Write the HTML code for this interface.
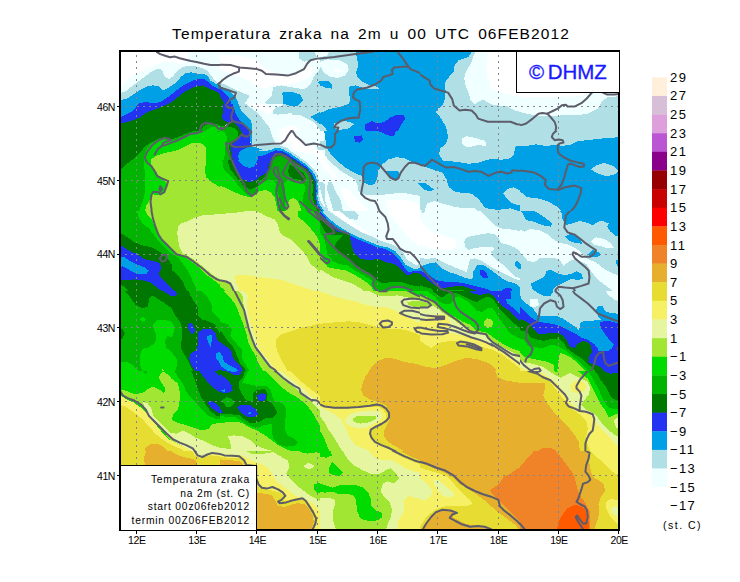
<!DOCTYPE html>
<html><head><meta charset="utf-8"><title>Temperatura zraka</title>
<style>
html,body{margin:0;padding:0;background:#fff;}
body{width:740px;height:582px;position:relative;overflow:hidden;font-family:"Liberation Sans",sans-serif;color:#000;}
svg{position:absolute;left:0;top:0;}
.title{position:absolute;left:0;width:740px;top:25px;text-align:center;font-size:15.5px;letter-spacing:1.1px;word-spacing:2.6px;padding-left:2px;box-sizing:border-box;white-space:nowrap;line-height:18px;}
.xl{position:absolute;top:533px;width:30px;text-align:center;font-size:10.5px;letter-spacing:-0.4px;line-height:14px;}
.yl{position:absolute;left:88px;width:27px;text-align:right;font-size:10.5px;letter-spacing:-0.4px;line-height:14px;}
.cl{position:absolute;left:670px;font-size:13px;letter-spacing:1.4px;line-height:15px;white-space:nowrap;}
.unit{position:absolute;left:663px;top:518px;font-size:10.5px;letter-spacing:1.5px;line-height:14px;white-space:nowrap;}
.dhmz{position:absolute;left:515.7px;top:52px;width:103.3px;height:41px;background:#fff;border-left:1.4px solid #000;border-bottom:1.4px solid #000;box-sizing:border-box;}
.dhmz span{position:absolute;left:12.2px;top:7.6px;font-size:20.5px;color:#1a1aff;-webkit-text-stroke:0.35px #1a1aff;letter-spacing:0px;line-height:24px;white-space:nowrap;}
.leg{position:absolute;left:121px;top:465px;width:136px;height:65px;background:#fff;border-top:1.4px solid #000;border-right:1.4px solid #000;box-sizing:border-box;}
.leg div{position:absolute;right:6px;font-size:10.3px;letter-spacing:0.78px;line-height:12px;white-space:nowrap;text-align:right;}
</style></head><body>
<svg width="740" height="582" viewBox="0 0 740 582">
<defs><clipPath id="c0"><rect x="120" y="51" width="100" height="80"/></clipPath>
<clipPath id="l0"><path clip-rule="evenodd" d="M120,51 H220 V131 H120 Z"/></clipPath>
<clipPath id="c1"><rect x="220" y="51" width="100" height="80"/></clipPath>
<clipPath id="l1"><path clip-rule="evenodd" d="M220,51 H320 V131 H220 Z M220,104 H292 V131 H220 Z"/></clipPath>
<clipPath id="c2"><rect x="320" y="51" width="100" height="80"/></clipPath>
<clipPath id="l2"><path clip-rule="evenodd" d="M320,51 H420 V131 H320 Z"/></clipPath>
<clipPath id="c3"><rect x="420" y="51" width="100" height="80"/></clipPath>
<clipPath id="l3"><path clip-rule="evenodd" d="M420,51 H520 V131 H420 Z"/></clipPath>
<clipPath id="c4"><rect x="520" y="51" width="100" height="80"/></clipPath>
<clipPath id="l4"><path clip-rule="evenodd" d="M520,51 H620 V131 H520 Z"/></clipPath>
<clipPath id="c5"><rect x="120" y="131" width="100" height="80"/></clipPath>
<clipPath id="l5"><path clip-rule="evenodd" d="M120,131 H220 V211 H120 Z"/></clipPath>
<clipPath id="c6"><rect x="220" y="131" width="100" height="80"/></clipPath>
<clipPath id="l6"><path clip-rule="evenodd" d="M220,131 H320 V211 H220 Z M220,131 H292 V160 H220 Z M258,150 H320 V211 H258 Z"/></clipPath>
<clipPath id="c7"><rect x="320" y="131" width="100" height="80"/></clipPath>
<clipPath id="l7"><path clip-rule="evenodd" d="M320,131 H420 V211 H320 Z M320,150 H325 V211 H320 Z"/></clipPath>
<clipPath id="c8"><rect x="420" y="131" width="100" height="80"/></clipPath>
<clipPath id="l8"><path clip-rule="evenodd" d="M420,131 H520 V211 H420 Z"/></clipPath>
<clipPath id="c9"><rect x="520" y="131" width="100" height="80"/></clipPath>
<clipPath id="l9"><path clip-rule="evenodd" d="M520,131 H620 V211 H520 Z"/></clipPath>
<clipPath id="c10"><rect x="120" y="211" width="100" height="80"/></clipPath>
<clipPath id="l10"><path clip-rule="evenodd" d="M120,211 H220 V291 H120 Z"/></clipPath>
<clipPath id="c11"><rect x="220" y="211" width="100" height="80"/></clipPath>
<clipPath id="l11"><path clip-rule="evenodd" d="M220,211 H320 V291 H220 Z"/></clipPath>
<clipPath id="c12"><rect x="320" y="211" width="100" height="80"/></clipPath>
<clipPath id="l12"><path clip-rule="evenodd" d="M320,211 H420 V291 H320 Z"/></clipPath>
<clipPath id="c13"><rect x="420" y="211" width="100" height="80"/></clipPath>
<clipPath id="l13"><path clip-rule="evenodd" d="M420,211 H520 V291 H420 Z"/></clipPath>
<clipPath id="c14"><rect x="520" y="211" width="100" height="80"/></clipPath>
<clipPath id="l14"><path clip-rule="evenodd" d="M520,211 H620 V291 H520 Z"/></clipPath>
<clipPath id="c15"><rect x="120" y="291" width="100" height="80"/></clipPath>
<clipPath id="l15"><path clip-rule="evenodd" d="M120,291 H220 V371 H120 Z"/></clipPath>
<clipPath id="c16"><rect x="220" y="291" width="100" height="80"/></clipPath>
<clipPath id="l16"><path clip-rule="evenodd" d="M220,291 H320 V371 H220 Z"/></clipPath>
<clipPath id="c17"><rect x="320" y="291" width="100" height="80"/></clipPath>
<clipPath id="l17"><path clip-rule="evenodd" d="M320,291 H420 V371 H320 Z"/></clipPath>
<clipPath id="c18"><rect x="420" y="291" width="100" height="80"/></clipPath>
<clipPath id="l18"><path clip-rule="evenodd" d="M420,291 H520 V371 H420 Z"/></clipPath>
<clipPath id="c19"><rect x="520" y="291" width="100" height="80"/></clipPath>
<clipPath id="l19"><path clip-rule="evenodd" d="M520,291 H620 V371 H520 Z"/></clipPath>
<clipPath id="c20"><rect x="120" y="371" width="100" height="80"/></clipPath>
<clipPath id="l20"><path clip-rule="evenodd" d="M120,371 H220 V451 H120 Z"/></clipPath>
<clipPath id="c21"><rect x="220" y="371" width="100" height="80"/></clipPath>
<clipPath id="l21"><path clip-rule="evenodd" d="M220,371 H320 V451 H220 Z"/></clipPath>
<clipPath id="c22"><rect x="320" y="371" width="100" height="80"/></clipPath>
<clipPath id="l22"><path clip-rule="evenodd" d="M320,371 H420 V451 H320 Z"/></clipPath>
<clipPath id="c23"><rect x="420" y="371" width="100" height="80"/></clipPath>
<clipPath id="l23"><path clip-rule="evenodd" d="M420,371 H520 V451 H420 Z"/></clipPath>
<clipPath id="c24"><rect x="520" y="371" width="100" height="80"/></clipPath>
<clipPath id="l24"><path clip-rule="evenodd" d="M520,371 H620 V451 H520 Z"/></clipPath>
<clipPath id="c25"><rect x="120" y="451" width="100" height="80"/></clipPath>
<clipPath id="l25"><path clip-rule="evenodd" d="M120,451 H220 V531 H120 Z"/></clipPath>
<clipPath id="c26"><rect x="220" y="451" width="100" height="80"/></clipPath>
<clipPath id="l26"><path clip-rule="evenodd" d="M220,451 H320 V531 H220 Z"/></clipPath>
<clipPath id="c27"><rect x="320" y="451" width="100" height="80"/></clipPath>
<clipPath id="l27"><path clip-rule="evenodd" d="M320,451 H420 V531 H320 Z"/></clipPath>
<clipPath id="c28"><rect x="420" y="451" width="100" height="80"/></clipPath>
<clipPath id="l28"><path clip-rule="evenodd" d="M420,451 H520 V531 H420 Z"/></clipPath>
<clipPath id="c29"><rect x="520" y="451" width="100" height="80"/></clipPath>
<clipPath id="l29"><path clip-rule="evenodd" d="M520,451 H620 V531 H520 Z"/></clipPath>
<clipPath id="c30"><rect x="220" y="104" width="72" height="56"/></clipPath>
<clipPath id="l30"><path clip-rule="evenodd" d="M220,104 H292 V160 H220 Z M258,150 H292 V160 H258 Z"/></clipPath>
<clipPath id="c31"><rect x="258" y="150" width="67" height="61"/></clipPath>
<clipPath id="l31"><path clip-rule="evenodd" d="M258,150 H325 V211 H258 Z"/></clipPath><clipPath id="cp"><rect x="120" y="51" width="500" height="480"/></clipPath></defs>
<g clip-path="url(#cp)" shape-rendering="crispEdges">
<rect x="120" y="51" width="500" height="480" fill="#b0e0e6"/>
<g clip-path="url(#c0)">
<rect x="120" y="51" width="100" height="80" fill="#ffffff"/>
<polygon fill="#f0ffff" points="119.7,87.5 124.6,82.9 129.5,78.1 135.9,74.0 142.4,70.8 148.9,67.5 157.0,64.3 163.5,61.8 174.9,62.6 181.4,64.3 187.8,61.0 187.8,50.5 233.2,50.5 233.2,157.5 119.7,157.5"/>
<polygon fill="#b0e0e6" points="119.7,93.5 126.2,91.0 131.1,87.0 137.6,82.1 144.1,77.2 150.5,72.4 157.0,69.1 161.9,69.6 163.2,73.2 165.1,77.2 169.2,78.9 173.2,76.4 174.9,73.2 178.1,69.9 183.8,66.7 189.5,65.9 195.9,66.4 202.4,68.3 207.3,70.8 210.5,74.8 213.8,78.9 217.8,82.9 223.5,84.5 233.2,84.5 233.2,157.5 119.7,157.5"/>
<polygon fill="#00a0e6" points="119.7,99.9 126.2,99.1 131.1,95.9 135.9,92.6 142.4,88.6 148.1,85.8 153.8,85.4 158.6,86.5 162.7,90.2 165.9,89.4 170.8,86.2 176.5,82.1 181.4,76.4 186.2,72.9 191.1,72.4 197.6,74.0 204.1,74.0 207.3,75.6 210.5,80.5 215.4,83.7 220.3,85.4 233.2,89.4 233.2,157.5 119.7,157.5"/>
<polygon fill="#2233f2" points="119.7,117.3 126.2,114.5 131.1,112.1 135.9,107.2 139.2,103.2 144.9,102.1 150.5,102.7 157.0,102.7 161.9,101.1 168.4,96.7 174.9,91.8 179.7,87.8 186.2,83.7 192.7,80.5 199.2,78.5 204.1,78.5 207.3,81.3 212.2,85.4 217.8,88.6 223.5,90.2 233.2,96.7 233.2,157.5 119.7,157.5"/>
<polygon fill="#007800" points="119.7,123.8 129.5,121.5 139.2,117.8 147.3,112.1 155.4,109.2 163.5,106.4 171.6,102.1 179.7,95.6 186.2,90.7 192.7,87.5 199.2,85.8 203.2,85.4 208.9,88.6 215.4,91.0 220.3,94.3 223.2,100.8 223.5,108.9 221.9,115.4 223.5,117.8 233.2,121.0 233.2,157.5 119.7,157.5"/>
<polygon fill="#00b400" points="181.4,138.9 186.2,136.4 194.3,132.9 200.8,131.6 203.2,126.7 207.3,124.3 213.8,123.5 220.3,125.1 223.5,128.3 233.2,124.3 233.2,157.5 181.4,157.5"/>
<polygon fill="#00dc00" points="197.6,138.9 204.1,131.6 210.5,127.5 220.3,125.9 233.2,127.5 233.2,157.5 197.6,157.5"/>
</g>
<g clip-path="url(#c1)">
<rect x="220" y="51" width="100" height="80" fill="#f0ffff"/>
<polygon fill="#ffffff" points="210.0,53.7 239.2,55.4 255.4,59.4 265.1,68.3 274.9,73.2 287.8,75.6 300.8,71.6 307.3,65.1 313.8,68.3 310.5,76.4 300.8,81.3 287.8,84.5 274.9,84.5 263.5,89.4 257.0,86.2 250.5,81.3 239.2,76.4 229.5,73.2 219.7,69.9 210.0,66.7"/>
<polygon fill="#ffffff" points="258.6,107.2 265.1,108.9 274.9,115.4 286.2,120.2 297.6,128.3 307.3,138.9 279.7,138.9 274.9,128.3 266.8,125.1 260.3,117.0"/>
<polygon fill="#b0e0e6" points="299.2,50.5 313.8,50.5 317.0,57.0 310.5,60.2 304.1,61.8 299.2,58.6"/>
<polygon fill="#b0e0e6" points="273.2,87.0 281.4,85.4 294.3,87.8 304.1,89.4 310.5,84.5 313.8,76.4 320.3,68.3 330.8,63.5 330.8,138.9 323.5,134.8 313.8,121.8 300.8,115.4 287.8,115.4 278.1,113.7 270.0,108.9 265.1,102.4 271.6,95.9"/>
<polygon fill="#b0e0e6" points="209.2,76.4 216.5,81.3 224.6,84.5 234.3,89.4 242.4,92.6 249.7,95.9 246.5,100.8 243.2,106.4 248.9,112.1 255.4,115.4 258.6,121.8 265.1,125.1 270.0,129.9 271.6,138.9 248.9,138.9 209.2,138.9"/>
<polygon fill="#00a0e6" points="282.2,92.6 291.1,91.8 300.0,94.3 303.2,99.9 298.4,105.6 291.1,106.4 283.8,107.2 283.0,99.1"/>
<polygon fill="#00a0e6" points="317.0,82.1 323.5,80.0 330.8,81.3 330.8,89.4 323.5,87.0"/>
<polygon fill="#00a0e6" points="310.5,117.0 320.3,112.1 330.8,108.9 330.8,131.6 323.5,126.7 317.0,121.8"/>
<polygon fill="#00a0e6" points="209.2,80.5 216.5,83.7 223.0,87.8 229.5,91.0 235.9,97.5 239.2,105.6 244.1,112.1 248.9,115.4 252.5,120.2 251.4,129.9 249.7,138.9 209.2,138.9"/>
<polygon fill="#2233f2" points="209.2,85.4 216.5,87.0 223.0,91.0 227.8,95.9 231.1,102.4 234.3,112.1 238.4,118.6 242.4,123.5 246.5,128.3 248.9,133.2 247.3,138.9 209.2,138.9"/>
<polygon fill="#007800" points="209.2,92.6 214.9,92.6 219.7,95.9 223.0,100.8 224.6,105.6 223.0,112.1 223.8,117.0 227.8,119.4 232.7,121.0 237.6,125.1 242.4,129.9 244.9,134.8 244.9,138.9 209.2,138.9"/>
<polygon fill="#00b400" points="209.2,123.5 216.5,123.5 223.0,125.1 227.8,123.5 232.7,125.9 237.6,129.9 240.8,134.8 241.6,138.9 209.2,138.9"/>
<polygon fill="#00dc00" points="209.2,126.7 216.5,127.0 221.4,128.3 224.6,131.6 231.1,131.6 234.3,138.9 209.2,138.9"/>
</g>
<g clip-path="url(#c2)">
<rect x="320" y="51" width="100" height="80" fill="#00a0e6"/>
<polygon fill="#b0e0e6" points="309.2,50.5 355.4,50.5 357.0,58.6 358.6,65.1 356.2,71.6 357.0,76.4 361.9,81.3 370.0,85.4 378.1,87.0 378.9,88.6 366.8,89.4 360.3,87.0 355.4,85.4 349.7,86.2 348.6,92.6 350.5,99.1 348.9,104.0 339.2,107.2 329.5,108.9 323.0,112.1 316.5,113.7 309.2,115.4"/>
<polygon fill="#b0e0e6" points="309.2,120.2 316.5,121.8 323.0,125.1 327.8,131.6 331.1,138.9 309.2,138.9"/>
<polygon fill="#b0e0e6" points="334.3,123.5 342.4,121.0 350.5,121.8 353.8,124.3 348.9,128.3 339.2,129.9 334.3,128.3"/>
<polygon fill="#f0ffff" points="319.7,61.8 327.8,59.4 339.2,60.2 347.3,64.3 348.9,69.9 344.9,75.6 337.6,78.1 329.5,76.4 323.8,72.4 320.5,66.7"/>
<polygon fill="#ffffff" points="332.7,69.9 337.6,68.3 342.4,70.8 337.6,72.9"/>
<polygon fill="#f0ffff" points="309.2,50.5 331.1,50.5 326.2,56.2 318.1,57.0 309.2,58.6"/>
<polygon fill="#f0ffff" points="309.2,66.7 314.1,68.3 314.9,76.4 313.2,84.5 309.2,86.2"/>
<polygon fill="#f0ffff" points="309.2,126.7 316.5,128.3 319.7,134.8 321.4,138.9 309.2,138.9"/>
<polygon fill="#00a0e6" points="316.5,82.9 323.0,80.5 329.5,81.6 331.9,84.5 331.9,88.6 326.2,87.8 319.7,85.4"/>
<polygon fill="#2233f2" points="365.1,124.3 371.6,121.0 378.1,123.5 384.6,121.8 391.1,117.0 398.4,114.5 404.1,115.4 404.9,119.4 400.8,125.1 397.6,131.6 394.3,136.4 387.8,135.6 381.4,132.4 374.9,130.8 368.4,132.4 365.1,129.9"/>
<polygon fill="#2233f2" points="353.0,138.9 357.0,135.6 362.7,136.1 363.5,138.9"/>
</g>
<g clip-path="url(#c3)">
<rect x="420" y="51" width="100" height="80" fill="#b0e0e6"/>
<polygon fill="#00a0e6" points="409.2,50.5 472.4,50.5 468.4,57.0 458.6,60.2 454.6,65.1 453.8,71.6 448.1,78.1 444.4,83.7 445.7,91.0 444.9,99.1 442.4,105.6 436.8,109.7 435.9,112.9 440.0,117.0 444.9,125.1 448.1,132.4 448.9,138.9 409.2,138.9"/>
<polygon fill="#f0ffff" points="476.5,50.5 530.8,50.5 530.8,113.7 523.5,112.9 515.4,110.5 507.3,106.4 499.2,105.6 491.1,104.3 483.8,99.9 479.7,100.8 474.9,104.0 470.8,100.8 468.4,92.6 465.1,84.5 464.3,78.1 465.9,71.6 470.8,63.5 473.2,57.0"/>
<polygon fill="#ffffff" points="489.5,50.5 530.8,50.5 530.8,95.9 521.9,96.7 510.5,95.1 500.8,92.6 494.3,90.2 490.3,87.8 489.5,81.3 487.0,76.4 486.2,68.3 487.0,60.2"/>
<polygon fill="#f0ffff" points="461.9,138.9 465.9,135.6 471.6,136.4 474.9,138.9"/>
</g>
<g clip-path="url(#c4)">
<rect x="520" y="51" width="100" height="80" fill="#b0e0e6"/>
<polygon fill="#f0ffff" points="509.2,91.0 621.9,91.0 621.9,95.9 607.3,97.5 602.4,100.8 597.6,108.9 587.8,113.7 574.9,115.4 561.9,115.4 548.9,116.2 535.9,115.4 523.0,112.9 509.2,108.9"/>
<polygon fill="#ffffff" points="509.2,91.0 591.1,91.0 581.4,95.9 558.6,97.5 535.9,96.7 523.0,97.5 509.2,99.1"/>
</g>
<g clip-path="url(#c5)">
<rect x="120" y="131" width="100" height="80" fill="#007800"/>
<polygon fill="#00b400" points="118.9,171.8 126.2,164.5 134.3,158.1 140.8,151.6 145.7,145.9 152.2,141.8 158.6,138.6 165.1,137.0 171.6,139.4 178.1,137.0 186.2,133.7 194.3,130.5 200.8,127.2 204.1,123.2 230.8,123.2 230.8,218.9 118.9,218.9"/>
<polygon fill="#00dc00" points="136.8,218.9 140.0,208.3 143.2,200.2 144.9,192.1 145.4,180.8 144.9,172.6 144.1,164.5 144.1,156.4 146.5,149.9 150.5,144.3 157.0,141.0 163.5,138.6 166.8,140.2 171.6,140.2 178.1,139.4 184.6,136.2 191.1,133.7 197.6,132.1 202.4,130.5 207.3,129.7 213.8,130.5 221.9,132.9 230.8,138.6 230.8,218.9"/>
<polygon fill="#00b400" points="230.8,138.6 225.9,141.8 222.7,148.3 221.1,156.4 221.9,164.5 223.5,171.0 230.8,175.9"/>
<polygon fill="#007800" points="230.8,143.5 227.6,148.3 225.9,156.4 226.8,164.5 230.8,171.0"/>
<polygon fill="#a0e632" points="151.4,158.9 157.0,155.6 163.5,153.2 171.6,151.6 178.1,149.9 184.6,146.7 191.1,143.5 197.6,142.6 203.2,144.3 206.5,148.3 206.0,156.4 205.7,164.5 204.9,172.6 206.5,177.5 212.2,182.4 220.3,187.2 230.8,190.5 230.8,218.9 144.9,218.9 144.9,211.6 146.5,205.1 149.7,200.2 151.4,193.7 157.0,195.4 163.5,192.1 166.8,184.0 163.5,179.1 158.6,175.9 154.6,169.4 151.4,164.5"/>
<polygon fill="#e6f5a0" points="197.6,218.9 207.3,214.8 220.3,212.9 230.8,212.4 230.8,218.9"/>
</g>
<g clip-path="url(#c6)">
<rect x="220" y="131" width="100" height="80" fill="#00dc00"/>
<polygon fill="#a0e632" points="209.2,183.2 218.1,184.8 226.2,188.1 234.3,192.1 242.4,195.4 250.5,197.3 257.0,192.9 264.3,188.9 269.2,192.1 272.4,198.6 274.9,206.7 277.3,212.4 281.4,218.9 209.2,218.9"/>
<polygon fill="#e6f5a0" points="219.7,218.9 226.2,214.0 239.2,211.6 250.5,210.8 257.0,212.9 258.6,218.9"/>
<polygon fill="#00b400" points="218.9,123.2 221.4,130.5 222.2,140.2 221.4,149.9 222.2,159.7 223.8,169.4 227.8,173.5 232.7,178.3 237.6,184.8 242.4,189.7 247.3,194.5 251.4,197.0 256.2,192.1 260.3,186.4 265.9,181.1 269.2,173.5 272.4,167.8 274.1,171.0 274.9,175.9 278.9,179.1 282.2,173.5 286.2,167.8 290.3,161.6 295.9,167.0 300.8,172.6 305.7,179.1 307.3,185.6 308.9,193.7 310.5,201.8 313.8,208.3 320.3,214.8 326.8,219.7 330.8,219.7 330.8,123.2"/>
<polygon fill="#007800" points="234.3,123.2 229.5,130.5 226.2,138.6 226.2,143.1 227.0,151.6 227.8,161.3 230.3,169.4 234.3,174.3 239.2,180.8 244.1,186.4 250.5,189.7 257.0,186.4 262.7,180.8 266.8,175.9 269.2,169.4 271.6,162.9 274.1,157.2 279.7,155.6 285.4,158.1 290.3,161.6 287.8,166.2 286.2,171.0 287.8,175.9 294.3,178.3 299.2,179.9 302.4,179.1 300.8,174.3 305.7,177.5 308.1,184.0 309.2,192.1 310.9,200.2 313.8,206.7 320.3,213.2 326.8,218.9 330.8,219.7 330.8,123.2"/>
<polygon fill="#2233f2" points="231.9,145.9 230.8,151.6 231.9,159.7 234.3,167.8 238.4,174.3 243.2,179.9 249.7,182.4 257.0,179.9 261.9,175.9 265.9,170.2 268.4,162.9 271.6,156.4 275.7,153.2 281.4,152.4 287.8,154.8 294.3,158.9 300.8,163.7 306.5,168.6 310.9,174.3 313.8,180.8 313.8,188.9 313.0,195.4 314.6,203.5 318.6,209.9 325.1,216.4 330.8,219.7 330.8,123.2 244.9,123.2 248.9,130.5 249.7,137.0 246.5,140.2 240.8,142.6 235.9,145.1"/>
<polygon fill="#00a0e6" points="238.4,154.0 242.4,150.8 250.5,148.3 258.6,148.3 266.8,150.8 274.1,149.9 279.7,148.3 286.2,150.8 292.7,155.6 299.2,160.5 305.7,165.8 311.4,171.8 314.6,179.1 315.7,188.9 315.4,197.0 317.8,205.1 321.9,211.6 326.8,217.2 330.8,219.7 330.8,123.2 249.7,123.2 251.4,132.1 250.5,140.2 249.7,145.1 244.1,145.9 240.0,148.3 238.4,161.3 242.4,165.4 248.9,167.8 253.8,167.0 257.0,161.3 257.8,156.4"/>
<polygon fill="#b0e0e6" points="250.5,123.2 251.4,132.1 250.5,140.2 251.4,145.1 258.6,146.4 266.8,148.3 271.6,149.9 278.1,147.5 282.2,146.7 287.8,149.6 294.3,154.5 300.8,159.7 307.3,165.4 313.0,171.8 316.2,179.1 317.0,188.9 317.0,197.0 319.5,205.1 323.5,211.6 327.6,216.4 330.8,218.1 330.8,123.2"/>
<polygon fill="#f0ffff" points="257.0,123.2 258.6,133.7 261.9,141.8 268.4,146.7 274.9,145.9 281.4,143.5 286.2,145.9 292.7,151.6 299.2,156.4 305.7,162.1 312.2,167.8 317.0,175.9 318.6,184.0 321.9,185.6 330.8,184.0 330.8,123.2"/>
<polygon fill="#b0e0e6" points="317.0,146.7 330.8,148.3 330.8,177.5 326.8,175.9 321.9,167.8 318.6,156.4"/>
<polygon fill="#b0e0e6" points="321.9,123.2 330.8,123.2 330.8,133.7 325.1,130.5"/>
<polygon fill="#b0e0e6" points="257.0,127.2 265.1,126.4 270.0,132.1 268.4,140.2 261.9,142.6 258.6,135.4"/>
<polygon fill="#f0ffff" points="317.8,180.8 330.8,179.1 330.8,214.8 326.8,211.6 321.9,201.8 318.6,192.1"/>
<polygon fill="#ffffff" points="279.7,128.9 286.2,137.0 291.1,132.1 297.6,138.6 307.3,145.1 315.4,146.7 321.9,153.2 323.5,161.3 320.3,166.2 313.8,164.5 307.3,159.7 300.8,154.8 294.3,149.9 287.8,145.1 283.0,140.2"/>
</g>
<g clip-path="url(#c7)">
<rect x="320" y="131" width="100" height="80" fill="#b0e0e6"/>
<polygon fill="#00a0e6" points="321.4,123.2 323.8,130.5 325.4,138.6 326.2,146.7 331.1,154.8 337.6,161.3 345.7,167.8 353.8,172.6 361.9,175.9 364.3,182.4 370.0,185.6 374.9,184.0 377.3,177.5 378.1,171.0 382.2,164.5 387.8,159.7 395.9,157.2 404.1,158.1 410.5,161.3 418.6,163.7 430.8,164.5 430.8,123.2"/>
<polygon fill="#00a0e6" points="386.2,171.0 397.6,171.0 400.0,174.3 397.6,179.9 392.7,179.9 388.6,175.9"/>
<polygon fill="#00a0e6" points="417.8,183.2 430.8,182.4 430.8,192.1 423.5,190.5"/>
<polygon fill="#b0e0e6" points="334.3,123.2 352.2,123.2 347.3,128.1 339.2,129.7 335.9,127.2"/>
<polygon fill="#2233f2" points="365.1,123.2 400.0,123.2 395.9,130.5 394.3,136.2 387.8,135.4 381.4,132.1 374.9,130.5 366.8,131.3"/>
<polygon fill="#2233f2" points="353.8,136.2 361.9,135.4 362.7,139.4 360.3,142.6 355.4,142.2"/>
<polygon fill="#f0ffff" points="309.2,140.2 314.9,145.1 321.4,151.6 327.8,158.9 334.3,165.4 340.8,171.0 348.9,175.9 355.4,179.9 357.8,185.6 358.6,192.1 366.8,195.4 378.1,195.4 391.1,193.7 404.1,192.9 417.0,195.4 430.8,197.0 430.8,218.9 309.2,218.9"/>
<polygon fill="#f0ffff" points="309.2,123.2 322.2,123.2 324.6,133.7 325.4,140.2 318.1,141.8 309.2,140.2"/>
<polygon fill="#ffffff" points="309.2,123.2 316.5,123.2 319.7,133.7 316.5,140.2 309.2,137.0"/>
<polygon fill="#b0e0e6" points="327.8,182.4 331.9,182.4 335.9,192.1 340.8,200.2 342.4,208.3 347.3,218.9 334.3,218.9 332.7,208.3 329.5,197.0 327.0,188.9"/>
<polygon fill="#b0e0e6" points="309.2,160.5 314.9,164.5 319.7,172.6 323.0,182.4 324.6,192.1 325.4,201.8 328.6,211.6 334.3,218.9 309.2,218.9"/>
<polygon fill="#ffffff" points="342.4,187.2 348.9,188.9 353.8,195.4 360.3,201.8 366.8,208.3 371.6,218.9 358.6,218.9 353.8,211.6 347.3,205.1 342.4,195.4"/>
<polygon fill="#ffffff" points="386.2,200.2 400.8,199.4 413.8,201.8 423.5,208.3 426.8,218.9 391.1,218.9 387.8,209.9"/>
<polygon fill="#ffffff" points="316.5,153.2 323.0,156.4 327.8,164.5 334.3,172.6 339.2,180.8 334.3,179.1 327.8,172.6 321.4,164.5"/>
<polygon fill="#00a0e6" points="309.2,167.8 312.4,171.0 315.7,179.1 317.3,188.9 318.1,198.6 321.4,208.3 326.2,214.8 331.1,218.9 309.2,218.9"/>
<polygon fill="#2233f2" points="309.2,172.6 311.6,175.9 314.1,184.0 315.7,193.7 317.3,203.5 320.5,211.6 325.4,218.9 309.2,218.9"/>
<polygon fill="#007800" points="309.2,177.5 311.6,184.0 313.2,195.4 315.7,205.1 319.7,214.8 322.2,218.9 309.2,218.9"/>
<polygon fill="#00b400" points="309.2,201.8 312.4,205.1 314.9,211.6 316.5,218.9 309.2,218.9"/>
</g>
<g clip-path="url(#c8)">
<rect x="420" y="131" width="100" height="80" fill="#00a0e6"/>
<polygon fill="#b0e0e6" points="444.9,123.2 530.8,123.2 530.8,145.1 521.9,145.1 515.4,146.7 513.8,154.8 508.9,158.9 500.8,159.7 491.1,158.9 484.6,160.5 478.1,162.9 468.4,163.7 458.6,162.1 450.5,161.3 443.2,160.5 439.2,154.8 440.0,148.3 445.7,144.3 448.1,137.0 446.5,128.9"/>
<polygon fill="#f0ffff" points="461.9,138.6 466.8,136.2 474.9,137.8 485.4,141.0 485.9,145.9 478.1,145.1 471.6,146.7 465.9,146.7 461.9,143.5"/>
<polygon fill="#b0e0e6" points="409.2,164.5 418.1,165.4 426.2,167.0 434.3,170.2 442.4,172.6 446.5,179.1 448.9,187.2 455.4,192.1 463.5,192.9 471.6,193.7 478.1,198.6 483.0,205.1 486.2,208.3 497.6,209.9 510.5,208.3 520.3,211.6 523.5,218.9 409.2,218.9"/>
<polygon fill="#00a0e6" points="418.1,183.2 425.4,183.2 431.1,187.2 434.0,189.7 429.5,191.3 423.8,189.7"/>
<polygon fill="#f0ffff" points="409.2,200.2 418.1,208.3 424.6,211.6 427.0,203.5 434.3,201.0 442.4,203.5 453.8,206.7 463.5,208.3 474.9,208.3 481.4,214.8 484.6,218.9 409.2,218.9"/>
<polygon fill="#b0e0e6" points="503.2,193.7 507.3,188.9 513.8,187.2 520.3,190.5 525.1,195.4 530.8,197.0 530.8,206.7 523.5,205.1 513.8,204.3 508.1,200.2"/>
</g>
<g clip-path="url(#c9)">
<rect x="520" y="131" width="100" height="80" fill="#00a0e6"/>
<polygon fill="#b0e0e6" points="509.2,123.2 621.9,123.2 621.9,135.4 613.8,137.8 600.8,138.6 587.8,140.2 578.1,141.0 571.6,144.3 563.5,145.9 555.4,145.1 545.7,145.9 535.9,144.3 526.2,145.9 515.7,145.9 514.9,154.8 509.2,158.9"/>
<polygon fill="#b0e0e6" points="591.1,169.4 595.9,165.4 604.1,162.9 613.8,166.2 618.3,171.0 613.8,175.1 605.7,175.9 597.6,173.5"/>
<polygon fill="#b0e0e6" points="509.2,187.2 516.5,188.9 523.0,193.7 526.2,197.0 539.2,198.6 548.9,201.8 557.0,206.7 561.9,211.6 563.5,218.9 523.0,218.9 519.7,211.6 514.9,207.5 509.2,205.9"/>
</g>
<g clip-path="url(#c10)">
<rect x="120" y="211" width="100" height="80" fill="#00b400"/>
<polygon fill="#00dc00" points="136.8,203.2 136.8,210.5 138.4,217.0 142.4,223.5 148.9,228.3 153.8,234.8 158.6,241.3 165.1,247.8 171.6,253.5 178.1,257.5 183.0,264.0 187.8,270.5 191.1,277.0 194.3,285.1 197.6,291.6 200.8,298.9 230.8,298.9 230.8,203.2"/>
<polygon fill="#a0e632" points="144.9,203.2 144.9,210.5 148.1,215.4 152.2,220.2 155.4,228.3 158.6,236.4 163.5,241.3 170.0,247.8 176.5,253.5 183.0,255.9 187.8,259.1 194.3,264.0 200.8,268.9 207.3,275.4 213.8,280.2 220.3,285.1 226.8,289.9 230.8,293.2 230.8,203.2"/>
<polygon fill="#e6f5a0" points="178.1,226.7 181.4,223.5 187.8,221.0 194.3,217.8 202.4,215.4 213.8,214.5 223.5,212.9 230.8,212.9 230.8,283.5 223.5,280.2 215.4,277.0 207.3,270.5 200.8,264.8 194.3,259.9 187.8,255.9 183.0,253.5 179.7,247.8 178.1,239.7 177.3,233.2"/>
<polygon fill="#007800" points="118.9,232.4 126.2,236.4 134.3,242.1 142.4,245.4 150.5,247.0 157.0,250.2 163.5,254.3 167.6,259.1 171.6,264.0 172.4,270.5 178.1,275.4 183.0,281.8 185.4,288.3 189.5,294.8 191.1,298.9 118.9,298.9"/>
<polygon fill="#00b400" points="118.9,283.5 124.6,286.7 129.5,291.6 132.7,298.9 118.9,298.9"/>
<polygon fill="#2233f2" points="118.9,243.7 124.6,247.8 131.1,251.8 137.6,254.3 144.1,259.1 152.2,260.8 160.3,263.2 161.1,268.9 158.6,273.7 161.9,278.6 166.8,283.5 173.2,289.9 177.3,294.0 174.9,297.2 170.0,296.4 163.5,292.4 157.0,287.5 150.5,282.6 142.4,280.2 134.3,279.4 126.2,280.2 118.9,280.2"/>
<polygon fill="#00a0e6" points="118.9,255.9 124.6,257.5 131.1,261.6 137.6,264.8 144.1,267.2 148.9,270.5 146.5,273.7 140.0,274.5 134.3,272.9 127.8,268.9 123.0,266.4 118.9,267.2"/>
</g>
<g clip-path="url(#c11)">
<rect x="220" y="211" width="100" height="80" fill="#e6f5a0"/>
<polygon fill="#a0e632" points="209.2,203.2 330.8,203.2 330.8,281.8 323.5,277.0 317.0,268.9 310.5,264.0 307.3,257.5 302.4,251.0 295.9,244.5 291.1,239.7 283.0,235.6 279.7,231.6 278.1,225.1 274.9,219.4 268.4,217.0 261.9,213.7 255.4,210.5 245.7,211.3 234.3,212.9 223.0,213.7 214.9,214.5 209.2,215.4"/>
<polygon fill="#00dc00" points="295.1,203.2 297.6,210.5 298.4,217.0 304.1,221.8 310.5,228.3 317.0,236.4 320.3,244.5 321.9,255.9 326.8,260.8 330.8,264.0 330.8,203.2"/>
<polygon fill="#00b400" points="307.3,203.2 313.8,210.5 320.3,218.6 325.1,226.7 326.8,236.4 325.9,246.2 327.6,252.6 330.8,255.9 330.8,203.2"/>
<polygon fill="#007800" points="321.9,220.2 326.8,221.8 330.8,226.7 330.8,252.6 327.6,251.0 325.9,241.3 323.5,229.9"/>
<polygon fill="#007800" points="313.0,203.2 319.5,210.5 325.1,217.0 330.8,221.8 330.8,203.2"/>
<polygon fill="#2233f2" points="315.4,203.2 318.6,208.9 322.7,213.7 326.8,217.8 330.8,220.2 330.8,203.2"/>
<polygon fill="#00a0e6" points="318.6,203.2 323.5,208.9 330.8,213.7 330.8,203.2"/>
<polygon fill="#f0ffff" points="321.9,203.2 326.8,207.2 330.8,209.7 330.8,203.2"/>
<polygon fill="#f5f064" points="234.3,277.0 239.2,274.5 248.9,275.4 258.6,277.0 271.6,278.6 283.0,280.2 294.3,284.3 304.1,287.5 313.8,290.8 323.5,293.2 330.8,294.8 330.8,298.9 242.4,298.9 237.6,286.7"/>
<polygon fill="#a0e632" points="209.2,275.4 214.9,278.6 221.4,281.0 227.8,281.8 231.9,285.1 234.3,291.6 237.6,298.9 209.2,298.9"/>
<polygon fill="#00dc00" points="209.2,283.5 216.5,285.1 223.0,288.3 227.8,293.2 229.5,298.9 209.2,298.9"/>
</g>
<g clip-path="url(#c12)">
<rect x="320" y="211" width="100" height="80" fill="#f0ffff"/>
<polygon fill="#ffffff" points="319.7,203.2 331.1,203.2 342.4,213.7 352.2,221.8 361.9,228.3 371.6,234.8 365.1,234.0 355.4,228.3 345.7,221.8 334.3,213.7 324.6,207.2"/>
<polygon fill="#ffffff" points="379.7,203.2 413.8,203.2 420.3,213.7 430.8,220.2 430.8,252.6 423.5,251.0 415.4,242.9 407.3,236.4 400.8,228.3 394.3,220.2 386.2,212.1"/>
<polygon fill="#b0e0e6" points="332.7,203.2 340.8,204.0 352.2,208.9 358.6,215.4 357.0,220.2 348.9,218.6 340.8,212.1 334.3,207.2"/>
<polygon fill="#b0e0e6" points="415.4,203.2 430.8,203.2 430.8,210.5 423.5,212.1 418.6,208.9"/>
<polygon fill="#b0e0e6" points="322.2,203.2 329.5,211.3 337.6,217.0 345.7,222.6 353.8,227.5 361.9,232.4 371.6,236.4 379.7,240.5 387.8,242.9 395.9,246.2 403.2,252.6 407.3,259.9 415.4,264.8 423.5,264.0 430.8,262.4 430.8,298.9 309.2,298.9 309.2,203.2"/>
<polygon fill="#00a0e6" points="315.7,203.2 323.0,212.1 331.1,220.2 339.2,226.7 348.9,232.4 358.6,237.2 368.4,241.3 378.1,245.4 387.8,247.5 395.1,251.0 400.8,257.5 405.7,264.8 413.8,268.9 423.5,268.1 430.8,273.7 430.8,298.9 309.2,298.9 309.2,203.2"/>
<polygon fill="#2233f2" points="314.1,203.2 321.4,212.9 329.5,221.8 337.6,228.3 347.3,234.0 357.0,238.9 366.8,242.9 376.5,247.0 386.2,249.4 393.5,253.5 399.2,259.9 404.1,267.2 408.9,272.1 417.0,270.5 423.5,272.1 430.8,278.6 430.8,298.9 309.2,298.9 309.2,203.2"/>
<polygon fill="#007800" points="311.6,203.2 318.1,212.1 324.6,220.2 331.1,226.7 337.6,231.6 344.1,233.2 349.7,234.8 351.4,244.5 353.8,252.6 360.3,259.1 370.0,259.9 378.1,259.1 386.2,262.4 394.3,264.0 400.8,268.9 407.3,275.4 413.8,272.9 420.3,273.7 426.8,278.6 430.8,281.8 430.8,298.9 309.2,298.9 309.2,203.2"/>
<polygon fill="#00b400" points="309.2,208.9 314.9,213.7 319.7,221.8 324.6,231.6 327.8,234.8 335.9,234.8 342.4,235.6 335.9,242.9 334.3,247.8 339.2,252.6 345.7,257.5 353.8,264.0 361.9,268.9 370.0,273.7 376.5,280.2 383.0,283.5 391.1,281.8 400.8,281.8 410.5,285.1 420.3,286.7 430.8,289.9 430.8,298.9 309.2,298.9"/>
<polygon fill="#00dc00" points="309.2,217.0 314.9,223.5 319.7,231.6 324.6,239.7 326.2,247.8 327.0,254.3 332.7,260.8 339.2,264.0 347.3,265.6 355.4,270.5 363.5,275.4 371.6,280.2 374.9,286.7 379.7,291.6 387.8,289.1 397.6,286.7 407.3,289.1 417.0,292.4 426.8,294.8 430.8,296.4 430.8,298.9 309.2,298.9"/>
<polygon fill="#a0e632" points="309.2,226.7 314.9,234.8 318.9,242.9 319.7,252.6 323.0,260.8 327.8,267.2 335.9,268.9 345.7,270.5 355.4,275.4 363.5,280.2 370.0,285.1 374.1,291.6 378.1,298.9 309.2,298.9"/>
<polygon fill="#e6f5a0" points="309.2,264.0 316.5,267.2 324.6,272.1 332.7,277.0 342.4,280.2 352.2,283.5 360.3,288.3 366.8,294.8 370.0,298.9 309.2,298.9"/>
<polygon fill="#f5f064" points="309.2,289.9 316.5,291.6 324.6,294.8 332.7,298.9 309.2,298.9"/>
</g>
<g clip-path="url(#c13)">
<rect x="420" y="211" width="100" height="80" fill="#f0ffff"/>
<polygon fill="#ffffff" points="409.2,207.2 416.5,213.7 423.0,223.5 431.1,231.6 442.4,234.8 452.2,238.1 457.0,242.1 455.4,247.8 448.9,250.2 439.2,249.4 429.5,248.6 421.4,244.5 414.9,238.1 409.2,234.8"/>
<polygon fill="#b0e0e6" points="445.7,203.2 458.6,207.2 468.4,208.9 476.5,208.1 481.4,212.1 487.8,218.6 494.3,225.1 500.8,228.3 513.8,229.9 523.5,231.6 530.8,231.6 530.8,203.2"/>
<polygon fill="#00a0e6" points="484.6,203.2 530.8,203.2 530.8,221.8 526.8,219.4 523.5,213.7 520.3,208.9 510.5,207.2 500.8,208.9 491.1,208.9 486.2,206.4"/>
<polygon fill="#b0e0e6" points="414.9,203.2 427.0,203.2 426.2,210.5 423.0,213.7 418.9,209.7"/>
<polygon fill="#b0e0e6" points="464.3,241.3 466.8,237.2 478.1,234.8 487.8,233.2 494.3,234.0 498.4,238.1 500.8,242.9 507.3,244.5 515.4,247.8 521.9,252.6 526.8,259.1 530.8,260.8 530.8,280.2 523.5,278.6 515.4,277.0 510.5,272.1 504.1,265.6 497.6,260.8 492.7,256.7 491.1,251.8 494.3,249.4 492.7,247.0 484.6,247.0 474.9,247.8 468.4,250.2 465.1,246.2"/>
<polygon fill="#00a0e6" points="514.6,262.4 517.0,260.8 521.1,264.0 521.9,268.1 518.6,268.9 515.4,265.6"/>
<polygon fill="#b0e0e6" points="409.2,255.9 416.5,257.5 423.0,258.3 427.8,259.1 434.3,257.5 440.8,260.8 448.9,264.8 458.6,268.9 466.8,272.1 470.0,259.1 474.9,258.3 481.4,260.8 487.8,264.8 494.3,268.9 500.8,272.1 507.3,275.4 513.8,278.6 523.5,281.8 530.8,283.5 530.8,298.9 409.2,298.9"/>
<polygon fill="#00a0e6" points="409.2,262.4 416.5,265.6 423.0,265.6 429.5,263.2 435.9,262.4 442.4,268.9 448.9,272.1 457.0,274.5 465.1,277.8 472.4,279.4 473.2,272.1 476.5,265.6 483.0,264.8 489.5,268.9 495.9,273.7 502.4,278.6 508.9,281.8 515.4,283.5 521.9,288.3 523.5,298.9 409.2,298.9"/>
<polygon fill="#2233f2" points="409.2,268.1 416.5,268.9 423.0,272.1 429.5,275.4 435.9,280.2 445.7,281.8 455.4,281.8 465.1,283.5 474.9,285.9 484.6,288.3 492.7,291.6 497.6,294.8 502.4,289.9 507.3,287.5 511.4,288.3 512.2,294.8 510.5,298.9 409.2,298.9"/>
<polygon fill="#2233f2" points="479.7,270.5 483.8,269.7 487.0,273.7 487.8,277.8 483.8,278.6 480.5,275.4"/>
<polygon fill="#007800" points="409.2,273.7 416.5,272.1 422.2,275.4 427.8,280.2 434.3,285.1 442.4,288.3 452.2,286.7 461.9,285.9 471.6,289.1 481.4,292.4 489.5,294.8 495.9,298.9 409.2,298.9"/>
<polygon fill="#00b400" points="409.2,285.1 416.5,283.5 423.0,286.7 431.1,288.3 435.1,293.2 437.6,298.9 409.2,298.9"/>
<polygon fill="#00b400" points="444.1,291.6 452.2,289.9 461.9,289.9 471.6,293.2 481.4,296.4 486.2,298.9 445.7,298.9"/>
<polygon fill="#00dc00" points="409.2,289.9 416.5,290.8 424.6,294.8 429.5,298.9 409.2,298.9"/>
<polygon fill="#00dc00" points="455.4,298.9 461.9,294.8 471.6,297.2 474.9,298.9"/>
</g>
<g clip-path="url(#c14)">
<rect x="520" y="211" width="100" height="80" fill="#b0e0e6"/>
<polygon fill="#00a0e6" points="557.0,203.2 621.9,203.2 621.9,236.4 615.4,235.6 610.5,231.6 607.3,226.7 608.9,223.5 602.4,221.0 597.6,221.8 592.7,225.1 586.2,222.6 579.7,221.0 571.6,223.5 565.9,225.1 562.7,220.2 561.9,213.7 558.6,208.9"/>
<polygon fill="#00a0e6" points="509.2,203.2 524.6,203.2 531.1,208.9 539.2,213.7 547.3,219.4 552.2,223.5 550.5,226.7 542.4,225.1 534.3,221.8 526.2,220.2 523.0,213.7 518.1,208.9 509.2,206.4"/>
<polygon fill="#00a0e6" points="565.1,236.4 570.0,234.0 576.5,235.6 581.4,241.3 582.2,243.7 574.9,242.9 570.0,241.3"/>
<polygon fill="#00a0e6" points="587.8,254.3 592.7,250.2 597.6,251.8 601.6,254.3 597.6,256.7 591.1,256.7"/>
<polygon fill="#00a0e6" points="615.4,259.9 621.9,259.1 621.9,266.4 617.0,265.6"/>
<polygon fill="#00a0e6" points="514.1,263.2 516.5,260.8 521.4,264.8 520.5,268.9 516.5,267.2"/>
<polygon fill="#00a0e6" points="531.1,283.5 537.6,280.2 544.1,277.0 546.5,271.3 550.5,269.7 558.6,273.7 565.1,275.4 571.6,273.7 576.5,271.3 581.4,273.7 583.0,278.6 578.1,280.2 571.6,278.6 565.1,281.8 558.6,285.1 553.8,288.3 550.5,294.8 542.4,296.4 535.9,292.4 531.9,288.3"/>
<polygon fill="#00a0e6" points="509.2,285.1 514.9,286.7 519.7,291.6 521.4,298.9 509.2,298.9"/>
<polygon fill="#2233f2" points="509.2,288.3 511.6,291.6 512.4,298.9 509.2,298.9"/>
<polygon fill="#f0ffff" points="509.2,229.9 518.1,229.1 524.6,231.6 529.5,229.1 539.2,229.9 547.3,234.0 553.8,239.7 560.3,242.9 568.4,244.5 574.9,247.8 581.4,252.6 587.8,259.1 595.9,262.4 604.1,268.9 613.8,273.7 621.9,277.0 621.9,294.8 613.8,291.6 607.3,286.7 600.8,281.8 594.3,275.4 589.5,268.9 586.2,264.0 579.7,260.8 574.9,259.1 570.0,260.8 563.5,265.6 560.3,260.8 553.8,257.5 547.3,257.5 540.8,257.5 534.3,262.4 527.8,260.8 521.4,254.3 516.5,247.8 511.6,242.9 509.2,241.3"/>
<polygon fill="#f0ffff" points="591.1,241.3 595.9,237.2 604.1,238.9 610.5,242.9 613.8,247.8 608.9,248.6 600.8,246.2 594.3,244.5"/>
<polygon fill="#f0ffff" points="509.2,272.1 513.2,275.4 509.2,277.0"/>
</g>
<g clip-path="url(#c15)">
<rect x="120" y="291" width="100" height="80" fill="#00b400"/>
<polygon fill="#007800" points="118.9,283.2 118.9,288.9 126.2,292.1 131.1,298.6 135.9,305.1 142.4,308.3 148.1,306.7 148.9,298.6 152.2,295.4 158.6,299.4 165.1,303.5 171.6,308.3 174.9,314.8 179.7,321.3 182.2,327.8 182.2,337.5 180.5,347.2 183.8,353.7 187.8,360.2 191.1,366.7 194.3,373.2 197.6,378.9 230.8,378.9 230.8,348.9 226.8,344.0 221.9,337.5 218.6,331.0 215.4,324.5 208.9,321.3 202.4,319.7 197.6,314.8 198.4,308.3 194.3,301.8 190.3,295.4 187.8,288.9 184.6,283.2"/>
<polygon fill="#2233f2" points="150.5,283.2 157.0,287.2 163.5,291.3 170.0,295.4 174.9,296.6 177.3,293.7 174.9,290.5 168.4,286.4 163.5,283.2"/>
<polygon fill="#2233f2" points="187.8,324.5 191.1,322.1 194.3,327.0 195.1,331.0 191.9,334.3 188.6,329.4"/>
<polygon fill="#2233f2" points="197.6,332.6 202.4,329.4 210.5,328.6 215.4,332.6 217.0,339.1 221.9,344.0 226.8,348.9 230.8,355.4 230.8,378.9 200.8,378.9 195.9,371.6 191.1,365.1 189.1,358.6 190.3,353.7 195.9,350.5 198.4,344.0 197.6,337.5"/>
<polygon fill="#00a0e6" points="206.5,336.7 211.4,334.3 212.2,339.1 210.5,347.2 208.1,342.4"/>
<polygon fill="#00a0e6" points="215.4,353.7 219.5,352.1 223.5,358.6 228.4,365.1 230.8,368.3 230.8,372.4 225.1,368.3 220.3,363.5 216.2,358.6"/>
<polygon fill="#007800" points="213.8,371.6 220.3,369.9 225.1,374.8 226.8,378.9 213.8,378.9"/>
<polygon fill="#00dc00" points="153.0,324.5 157.0,320.5 165.1,320.0 171.6,321.6 174.9,327.8 173.2,334.3 171.6,337.5 167.6,335.9 165.1,340.8 165.9,347.2 171.6,352.1 176.5,358.6 177.3,365.1 174.9,371.6 174.9,378.9 147.3,378.9 142.4,371.6 140.0,365.1 140.0,355.4 142.4,348.9 148.9,347.2 155.4,342.4 156.2,334.3 153.8,329.4"/>
<polygon fill="#00dc00" points="139.2,318.9 143.2,317.2 145.7,319.7 142.4,322.1"/>
<polygon fill="#00dc00" points="118.9,361.8 126.2,361.8 132.7,365.1 137.6,369.9 142.4,374.8 145.7,378.9 118.9,378.9"/>
<polygon fill="#a0e632" points="158.6,378.9 160.3,373.2 162.7,369.1 165.9,374.0 168.4,378.9"/>
<polygon fill="#007800" points="118.9,327.8 123.0,329.4 124.6,333.5 122.2,339.1 118.9,340.8"/>
<polygon fill="#00dc00" points="195.1,283.2 200.8,290.5 207.3,297.0 211.4,303.5 212.2,311.6 217.0,316.4 221.9,321.3 226.8,329.4 230.8,332.6 230.8,283.2"/>
<polygon fill="#a0e632" points="212.2,283.2 220.3,287.2 226.8,292.1 230.8,296.2 230.8,283.2"/>
</g>
<g clip-path="url(#c16)">
<rect x="220" y="291" width="100" height="80" fill="#f5f064"/>
<polygon fill="#e6f5a0" points="297.6,283.2 307.3,285.6 317.0,290.5 326.8,293.7 330.8,294.5 330.8,283.2"/>
<polygon fill="#e6dc32" points="276.5,339.1 281.4,334.3 291.1,331.0 300.8,327.8 312.2,325.4 323.5,322.1 330.8,321.3 330.8,378.9 291.1,378.9 286.2,368.3 281.4,360.2 277.3,352.1 276.2,345.6"/>
<polygon fill="#e6f5a0" points="234.3,283.2 242.4,290.5 248.1,295.4 246.5,303.5 248.1,313.2 250.5,322.9 253.8,332.6 257.0,342.4 260.3,350.5 266.8,358.6 273.2,366.7 279.7,374.8 283.0,378.9 209.2,378.9 209.2,283.2"/>
<polygon fill="#a0e632" points="231.1,283.2 237.6,290.5 242.4,295.4 243.2,300.2 244.1,309.9 246.5,319.7 249.7,331.0 253.0,342.4 256.2,348.9 261.9,357.0 268.4,365.1 274.9,372.4 279.7,378.9 209.2,378.9 209.2,283.2"/>
<polygon fill="#00dc00" points="212.4,283.2 218.1,287.2 224.6,292.1 231.1,298.6 235.9,305.1 238.4,311.6 240.8,318.1 244.1,326.2 246.5,334.3 248.1,342.4 251.4,348.9 255.4,355.4 258.6,363.5 263.5,371.6 270.0,378.9 209.2,378.9 209.2,283.2"/>
<polygon fill="#00b400" points="209.2,318.1 214.9,319.7 221.4,322.1 227.8,324.5 231.9,329.4 230.3,335.9 234.3,340.8 238.4,345.6 242.4,350.5 241.6,357.0 244.9,363.5 248.9,369.9 248.1,378.9 209.2,378.9"/>
<polygon fill="#007800" points="209.2,322.1 214.9,324.5 219.7,330.2 224.6,335.9 227.8,341.6 232.7,346.4 235.1,351.3 237.6,357.0 240.0,363.5 244.9,368.3 246.5,374.0 244.1,378.9 209.2,378.9"/>
<polygon fill="#2233f2" points="209.2,327.0 214.9,329.4 217.3,335.9 220.5,342.4 226.2,346.4 231.1,350.5 232.7,357.0 235.9,361.8 240.8,366.7 243.2,371.6 240.8,374.8 234.3,374.0 227.8,372.4 219.7,369.9 214.9,371.6 209.2,368.3"/>
<polygon fill="#00a0e6" points="209.2,332.6 212.4,335.9 213.2,344.0 211.6,348.9 209.2,350.5"/>
<polygon fill="#00a0e6" points="215.7,352.9 219.7,352.1 223.0,357.0 223.8,361.8 229.5,365.1 235.9,368.3 239.2,371.6 234.3,373.2 227.8,370.8 221.4,366.7 217.3,360.2"/>
<polygon fill="#007800" points="209.2,370.8 214.9,372.4 221.4,371.6 226.2,374.0 231.1,378.9 209.2,378.9"/>
</g>
<g clip-path="url(#c17)">
<rect x="320" y="291" width="100" height="80" fill="#e6dc32"/>
<polygon fill="#f5f064" points="309.2,283.2 430.8,283.2 430.8,347.2 426.8,340.8 420.3,335.9 413.8,332.6 405.7,330.2 397.6,328.6 387.8,328.6 378.1,327.0 368.4,324.5 358.6,322.1 348.9,321.3 339.2,322.1 326.2,322.9 316.5,324.5 309.2,326.2"/>
<polygon fill="#e6f5a0" points="309.2,283.2 430.8,283.2 430.8,320.5 423.5,323.7 417.0,322.1 410.5,318.9 402.4,314.8 394.3,309.9 386.2,307.5 376.5,306.7 366.8,305.1 357.0,301.8 345.7,299.4 335.9,297.0 326.2,293.7 316.5,290.5 309.2,288.9"/>
<polygon fill="#a0e632" points="344.1,283.2 352.2,285.6 361.9,288.9 371.6,292.1 378.1,295.4 387.8,296.2 397.6,295.4 405.7,297.0 413.8,298.6 423.5,300.2 430.8,301.0 430.8,283.2"/>
<polygon fill="#00dc00" points="370.0,283.2 374.9,288.9 381.4,292.1 387.8,291.3 394.3,288.9 402.4,289.7 410.5,292.9 420.3,295.4 430.8,297.0 430.8,283.2"/>
<polygon fill="#00b400" points="378.1,283.2 383.0,287.2 389.5,288.1 397.6,285.6 407.3,287.2 417.0,290.5 430.8,292.9 430.8,283.2"/>
<polygon fill="#007800" points="400.8,283.2 413.8,285.6 423.5,288.1 430.8,289.7 430.8,283.2"/>
<polygon fill="#a0e632" points="407.3,301.8 417.0,301.0 426.8,302.6 430.8,303.5 430.8,307.5 423.5,308.3 413.8,306.7 408.1,305.1"/>
<polygon fill="#e6af2d" points="363.5,378.9 368.4,371.6 373.2,365.1 379.7,360.2 386.2,357.8 394.3,358.6 404.1,361.8 413.8,363.5 423.5,365.9 430.8,367.5 430.8,378.9"/>
</g>
<g clip-path="url(#c18)">
<rect x="420" y="291" width="100" height="80" fill="#e6dc32"/>
<polygon fill="#e6af2d" points="409.2,361.8 416.5,364.3 426.2,366.7 435.9,368.3 445.7,365.1 455.4,361.0 465.1,358.3 474.9,358.6 483.0,361.0 491.1,364.3 495.9,369.9 497.6,378.9 409.2,378.9"/>
<polygon fill="#f5f064" points="409.2,332.6 416.5,337.5 424.6,344.0 431.1,348.1 437.6,343.2 445.7,341.6 455.4,340.8 463.5,342.4 474.9,345.6 483.0,347.2 492.7,349.7 500.8,353.7 507.3,358.6 513.8,363.5 520.3,368.3 526.8,374.0 530.8,376.4 530.8,283.2 409.2,283.2"/>
<polygon fill="#e6f5a0" points="409.2,316.4 416.5,318.9 426.2,318.9 435.9,315.6 442.4,314.0 447.3,316.4 450.5,322.9 447.3,329.4 450.5,332.6 458.6,334.3 468.4,336.7 478.1,339.9 487.8,343.2 495.9,346.4 504.1,351.3 510.5,356.2 517.0,361.8 523.5,365.1 530.8,366.7 530.8,283.2 409.2,283.2"/>
<polygon fill="#a0e632" points="409.2,299.4 418.1,300.2 426.2,301.0 431.1,305.1 437.6,308.3 444.1,314.0 452.2,318.9 460.3,324.5 466.8,328.6 474.9,332.6 483.0,334.3 489.5,339.1 495.9,344.0 504.1,348.1 512.2,352.1 518.6,355.4 525.1,360.2 530.8,361.8 530.8,283.2 409.2,283.2"/>
<polygon fill="#00dc00" points="409.2,292.1 418.1,293.7 426.2,296.2 432.7,300.2 439.2,306.7 445.7,311.6 453.8,316.4 461.9,321.3 470.0,324.5 474.9,329.4 481.4,331.8 486.2,332.6 491.1,335.9 499.2,341.6 507.3,346.4 515.4,349.7 521.9,352.1 526.8,355.4 530.8,357.0 530.8,283.2 409.2,283.2"/>
<polygon fill="#a0e632" points="483.8,322.1 487.0,318.4 491.1,318.9 493.5,322.9 491.9,327.0 487.0,327.8 484.3,325.4"/>
<polygon fill="#00b400" points="409.2,287.2 416.5,288.1 426.2,290.5 434.3,296.2 440.0,302.2 444.9,304.6 451.0,303.5 454.6,297.8 458.6,296.2 464.3,299.4 469.2,302.6 472.9,305.9 476.6,310.8 482.6,311.9 487.5,308.3 492.4,308.3 496.1,313.2 499.7,319.2 504.7,325.4 508.3,331.5 513.1,335.1 519.3,338.2 525.3,339.5 530.8,338.8 530.8,283.2 409.2,283.2"/>
<polygon fill="#007800" points="409.2,284.0 419.7,285.6 429.5,288.9 435.9,293.7 440.0,296.6 443.7,297.3 447.3,293.7 452.2,292.4 458.3,293.7 464.3,296.6 470.5,299.7 476.6,302.2 481.5,299.1 487.5,296.6 492.4,298.6 496.1,303.5 499.7,309.5 504.7,314.3 508.3,318.1 513.1,322.3 518.0,326.6 524.2,329.1 530.8,330.2 530.8,283.2 409.2,283.2"/>
<polygon fill="#2233f2" points="435.9,283.2 442.4,286.4 447.3,287.2 453.8,284.8 461.9,286.4 468.1,290.0 472.9,293.7 480.2,294.9 488.8,293.1 493.7,296.2 498.5,302.2 503.4,307.0 509.6,310.8 514.4,315.6 519.3,320.5 525.3,321.6 530.8,322.3 530.8,283.2"/>
<polygon fill="#00a0e6" points="463.5,283.2 474.9,285.6 484.6,288.1 494.3,288.9 500.8,288.1 507.3,288.9 511.4,292.9 510.5,298.6 505.7,299.4 507.3,303.5 513.8,308.3 520.3,314.8 525.1,318.9 530.8,319.7 530.8,283.2"/>
<polygon fill="#b0e0e6" points="489.5,283.2 492.7,285.6 495.9,283.2"/>
<polygon fill="#b0e0e6" points="513.8,283.2 518.6,287.2 521.1,293.7 521.9,300.2 526.8,304.3 530.8,305.9 530.8,283.2"/>
<polygon fill="#a0e632" points="409.2,300.2 419.7,301.0 427.8,303.1 429.5,305.1 426.2,306.7 418.1,306.7 409.2,305.9"/>
</g>
<g clip-path="url(#c19)">
<rect x="520" y="291" width="100" height="80" fill="#b0e0e6"/>
<polygon fill="#f0ffff" points="595.9,283.2 621.9,283.2 621.9,301.8 615.4,300.2 608.9,295.4 604.1,288.9"/>
<polygon fill="#00a0e6" points="509.2,283.2 514.9,287.2 518.9,292.1 521.4,298.6 526.2,303.5 532.7,308.3 537.6,314.8 542.4,316.4 548.9,316.4 555.4,315.6 561.9,318.1 566.8,321.3 571.6,324.5 576.5,327.8 578.9,331.0 580.5,322.9 584.6,320.5 594.3,320.5 600.8,319.7 598.4,316.4 595.9,309.9 598.4,305.9 602.4,305.9 605.7,311.6 612.2,313.2 621.9,314.0 621.9,378.9 509.2,378.9"/>
<polygon fill="#00a0e6" points="531.1,283.2 555.4,283.2 553.8,290.5 550.5,296.2 544.1,296.2 537.6,292.9 532.7,288.9"/>
<polygon fill="#f0ffff" points="529.5,299.4 537.6,299.4 539.2,305.1 534.3,307.5 529.5,305.1"/>
<polygon fill="#2233f2" points="600.0,322.1 607.3,320.5 613.8,322.1 621.9,324.5 621.9,368.3 613.8,365.1 607.3,361.8 600.8,360.2 595.9,355.4 598.4,350.5 607.3,351.3 611.4,348.9 613.8,344.0 608.9,339.1 604.1,332.6 600.8,327.8"/>
<polygon fill="#2233f2" points="509.2,301.8 514.9,302.6 519.7,306.7 524.6,311.6 529.5,316.4 534.3,319.7 539.2,322.1 547.3,322.9 555.4,324.5 561.9,327.0 568.4,330.2 574.9,333.5 581.4,337.5 587.8,339.9 594.3,344.0 597.6,348.1 598.4,355.4 600.8,360.2 607.3,361.8 621.9,368.3 621.9,379.7 509.2,379.7"/>
<polygon fill="#007800" points="509.2,311.6 514.9,316.4 521.4,319.7 527.8,322.1 532.7,327.8 539.2,334.3 547.3,333.5 557.0,332.6 563.5,335.9 566.8,340.8 570.0,346.4 574.9,348.1 577.3,344.0 583.0,340.8 587.8,342.4 591.1,345.6 591.9,352.1 589.5,356.2 588.3,361.8 591.2,363.6 595.0,364.6 598.9,366.1 602.6,369.3 604.5,372.2 609.2,374.0 613.0,374.5 617.7,372.5 621.9,371.6 621.9,379.7 509.2,379.7"/>
<polygon fill="#00b400" points="509.2,332.6 514.9,331.0 519.7,330.2 526.2,331.8 531.1,337.5 537.6,339.9 544.1,340.8 550.5,339.1 558.6,338.3 563.5,342.4 566.8,348.1 572.3,352.3 576.0,355.0 580.9,357.9 585.6,361.8 589.3,365.6 593.0,368.3 595.9,371.2 597.9,375.0 601.6,379.7 509.2,379.7"/>
<polygon fill="#00dc00" points="509.2,339.1 514.9,339.1 519.7,338.3 524.6,339.9 527.8,345.6 534.3,347.2 542.4,348.1 548.9,345.6 553.8,344.8 558.6,346.4 565.6,350.5 571.3,355.0 577.0,359.9 581.8,364.6 586.5,369.3 590.3,372.2 592.2,375.9 593.5,379.7 509.2,379.7"/>
<polygon fill="#a0e632" points="509.2,347.2 514.9,348.1 519.7,352.1 524.6,357.0 531.1,358.6 539.2,360.2 547.3,361.8 553.8,365.1 554.6,371.6 556.2,374.8 557.8,368.3 558.6,358.6 559.9,352.9 564.6,354.2 570.3,357.0 575.0,360.9 579.9,365.6 583.6,369.3 586.5,372.2 589.3,375.9 590.3,379.7 509.2,379.7"/>
<polygon fill="#e6f5a0" points="509.2,352.1 514.9,355.4 519.7,360.2 526.2,362.6 534.3,364.3 542.4,366.7 547.3,369.9 550.5,374.8 552.2,378.9 509.2,378.9"/>
<polygon fill="#e6f5a0" points="565.1,378.9 570.0,374.8 574.9,374.0 578.1,376.4 579.7,378.9"/>
<polygon fill="#f5f064" points="509.2,357.0 514.9,361.8 519.7,366.7 526.2,369.9 534.3,371.6 540.8,374.8 544.1,378.9 509.2,378.9"/>
<polygon fill="#e6dc32" points="509.2,365.1 514.9,369.9 519.7,374.8 523.0,378.9 509.2,378.9"/>
<polygon fill="#007800" points="581.4,346.4 584.6,345.6 586.2,348.9 583.8,350.8 581.4,349.7"/>
</g>
<g clip-path="url(#c20)">
<rect x="120" y="371" width="100" height="80" fill="#00dc00"/>
<polygon fill="#00b400" points="134.3,363.2 137.6,367.2 142.4,371.3 145.7,374.5 148.1,370.5 147.3,363.2"/>
<polygon fill="#00b400" points="174.9,363.2 174.1,370.5 178.1,377.0 183.0,383.5 186.2,391.6 191.1,398.1 197.6,404.5 202.4,410.2 208.9,415.9 217.0,419.1 230.8,420.8 230.8,363.2"/>
<polygon fill="#007800" points="189.5,363.2 191.1,370.5 194.3,378.6 197.6,388.3 200.8,396.4 205.7,404.5 210.5,411.0 217.0,415.9 223.5,417.5 230.8,415.9 230.8,363.2"/>
<polygon fill="#2233f2" points="192.7,363.2 197.6,368.9 202.4,375.4 207.3,381.8 213.8,388.3 220.3,392.4 225.1,389.9 230.8,388.3 230.8,383.5 223.5,379.4 217.0,373.7 212.2,368.9 210.5,363.2"/>
<polygon fill="#2233f2" points="220.3,363.2 223.5,368.9 230.8,375.4 230.8,363.2"/>
<polygon fill="#00a0e6" points="221.9,363.2 226.8,367.2 230.8,370.5 230.8,363.2"/>
<polygon fill="#00a0e6" points="220.3,391.6 223.5,389.1 226.8,389.9 223.5,392.9"/>
<polygon fill="#2233f2" points="207.3,402.9 211.4,400.5 217.0,404.5 221.9,410.2 222.7,413.5 218.6,412.6 212.2,408.6"/>
<polygon fill="#00dc00" points="223.5,399.7 228.4,397.2 230.8,398.1 230.8,407.8 226.8,406.2"/>
<polygon fill="#a0e632" points="158.6,377.0 162.7,371.3 166.8,373.7 171.6,378.6 178.1,383.5 179.7,391.6 179.7,401.3 178.1,409.4 173.2,414.3 171.6,419.9 176.5,422.4 184.6,424.8 194.3,428.1 202.4,430.5 208.9,428.9 211.4,424.8 217.0,423.2 225.1,423.2 230.8,422.4 230.8,458.9 191.1,458.9 174.9,445.1 163.5,432.1 153.8,420.8 147.3,411.0 140.8,403.7 131.1,398.9 122.2,394.8 121.4,389.9 126.2,390.8 134.3,394.0 142.4,393.2 148.9,388.3 153.8,386.7 160.3,389.9 164.3,393.2 165.1,388.3 161.9,383.5"/>
<polygon fill="#e6f5a0" points="142.4,402.1 147.3,402.9 151.4,408.6 153.0,415.1 158.6,420.8 165.1,427.2 170.0,432.9 176.5,433.7 183.0,430.5 189.5,433.7 195.9,437.8 204.1,441.0 212.2,445.1 221.9,448.3 230.8,449.9 230.8,458.9 194.3,458.9 187.8,448.3 174.9,441.8 165.1,432.1 155.4,422.4 147.3,412.6"/>
<polygon fill="#f5f064" points="118.9,394.8 126.2,398.9 134.3,402.9 142.4,408.6 148.9,415.9 155.4,424.0 161.9,432.1 170.0,440.2 178.1,444.3 186.2,447.5 194.3,452.4 197.6,458.9 118.9,458.9"/>
<polygon fill="#f5f064" points="197.6,451.6 207.3,452.4 220.3,454.8 230.8,456.4 230.8,458.9 197.6,458.9"/>
<polygon fill="#e6dc32" points="118.9,404.5 126.2,407.0 134.3,412.6 142.4,419.1 148.9,426.4 155.4,433.7 163.5,440.2 171.6,445.1 181.4,449.1 189.5,454.8 192.7,458.9 118.9,458.9"/>
<polygon fill="#e6af2d" points="144.9,448.3 150.5,444.3 157.0,443.5 163.5,446.7 170.0,453.2 174.9,458.9 145.7,458.9"/>
</g>
<g clip-path="url(#c21)">
<rect x="220" y="371" width="100" height="80" fill="#00dc00"/>
<polygon fill="#a0e632" points="258.6,363.2 263.5,368.9 270.0,375.4 276.5,381.8 283.0,388.3 289.5,393.2 295.9,396.4 302.4,401.3 308.9,407.8 313.8,414.3 317.0,420.8 321.9,428.9 326.8,437.0 330.8,441.8 330.8,363.2"/>
<polygon fill="#e6f5a0" points="265.1,363.2 271.6,368.9 278.1,373.7 284.6,380.2 291.1,385.1 297.6,389.9 304.1,396.4 310.5,401.3 317.0,407.8 323.5,414.3 328.4,420.8 330.8,425.6 330.8,363.2"/>
<polygon fill="#f5f064" points="270.0,363.2 278.1,368.9 286.2,375.4 294.3,381.8 300.8,386.7 307.3,393.2 313.8,398.1 321.9,402.9 330.8,407.8 330.8,363.2"/>
<polygon fill="#e6dc32" points="281.4,363.2 289.5,370.5 297.6,378.6 305.7,385.1 313.8,391.6 320.3,396.4 326.8,401.3 330.8,402.9 330.8,363.2"/>
<polygon fill="#a0e632" points="209.2,424.0 216.5,423.2 226.2,422.4 235.9,421.6 242.4,423.2 248.9,427.2 257.0,430.5 265.1,435.4 271.6,440.2 278.1,445.1 286.2,449.1 295.9,452.4 307.3,454.8 317.0,457.2 323.5,458.9 209.2,458.9"/>
<polygon fill="#e6f5a0" points="227.8,436.2 234.3,435.4 242.4,436.2 250.5,440.2 257.0,445.9 263.5,448.3 271.6,450.8 279.7,453.2 287.8,457.2 289.5,458.9 209.2,458.9 209.2,446.7 216.5,447.5 224.6,448.3 231.1,449.1 230.3,441.8"/>
<polygon fill="#f5f064" points="209.2,454.8 216.5,454.8 224.6,456.4 232.7,457.7 242.4,458.9 209.2,458.9"/>
<polygon fill="#00b400" points="209.2,363.2 248.9,363.2 248.1,370.5 244.9,377.0 242.4,382.6 248.9,384.3 257.0,385.9 266.8,385.9 270.8,389.9 272.4,396.4 274.9,401.3 281.4,402.9 285.4,407.0 286.2,414.3 284.6,422.4 284.6,428.9 287.8,435.4 294.3,438.6 297.6,442.6 294.3,445.9 286.2,446.7 278.1,444.3 273.2,438.6 271.6,430.5 272.4,424.0 265.1,424.8 257.0,428.1 248.9,425.6 242.4,421.6 235.9,417.5 226.2,416.7 216.5,415.9 209.2,415.1"/>
<polygon fill="#007800" points="209.2,363.2 242.4,363.2 244.9,370.5 243.2,377.0 239.2,381.8 239.2,388.3 242.4,394.8 247.3,401.3 253.0,400.5 253.0,394.0 256.2,389.9 265.1,389.1 267.6,394.0 266.8,400.5 271.6,402.9 274.9,407.8 277.3,412.6 273.2,417.5 265.1,418.3 258.6,422.4 250.5,423.2 244.1,419.1 239.2,415.1 231.1,414.3 221.4,413.5 214.9,412.6 209.2,411.0"/>
<polygon fill="#00b400" points="222.2,400.5 226.2,397.2 231.1,398.1 234.3,402.9 231.1,407.0 226.2,407.0"/>
<polygon fill="#2233f2" points="209.2,363.2 219.7,363.2 218.1,367.2 214.9,370.5 219.7,373.7 226.2,378.6 231.9,385.1 232.7,390.8 227.8,393.2 221.4,392.4 216.5,389.9 211.6,386.7 209.2,385.1"/>
<polygon fill="#2233f2" points="219.7,363.2 231.1,363.2 237.6,367.2 241.6,372.1 239.2,375.4 232.7,374.5 226.2,371.3 221.4,367.2"/>
<polygon fill="#00a0e6" points="219.7,363.2 230.3,363.2 234.3,367.2 237.6,371.3 232.7,372.1 226.2,368.9"/>
<polygon fill="#00a0e6" points="220.5,390.8 224.6,389.1 225.4,392.4"/>
<polygon fill="#2233f2" points="209.2,400.5 214.9,402.9 219.7,407.8 223.0,412.6 218.1,412.6 213.2,410.2 209.2,408.6"/>
<polygon fill="#2233f2" points="236.8,407.0 242.4,404.5 250.5,405.4 256.2,409.4 257.8,414.3 253.8,417.5 247.3,416.7 240.8,412.6"/>
<polygon fill="#2233f2" points="257.0,395.6 261.1,393.2 265.9,394.0 265.9,398.9 262.7,401.3 258.6,400.5"/>
<polygon fill="#00a0e6" points="248.1,412.6 250.5,412.3 250.5,413.9 248.6,413.9"/>
</g>
<g clip-path="url(#c22)">
<rect x="320" y="371" width="100" height="80" fill="#e6dc32"/>
<polygon fill="#e6af2d" points="374.9,363.2 370.0,370.5 365.1,377.0 362.7,383.5 361.1,389.9 363.5,395.6 370.0,399.7 378.1,402.1 386.2,405.4 389.5,411.0 390.3,417.5 387.8,424.0 384.6,428.9 383.8,435.4 387.8,441.8 395.9,446.7 405.7,451.6 415.4,456.4 421.9,458.9 430.8,458.9 430.8,363.2"/>
<polygon fill="#f5f064" points="309.2,401.3 316.5,403.7 324.6,407.0 334.3,408.6 347.3,408.6 358.6,407.8 370.0,407.0 378.1,406.5 383.0,409.4 386.2,414.3 386.2,419.1 381.4,422.4 374.9,425.6 370.8,428.9 370.0,433.7 372.4,438.6 376.5,443.5 383.0,446.7 391.1,450.8 400.8,454.8 408.9,458.9 309.2,458.9"/>
<polygon fill="#e6f5a0" points="309.2,402.1 316.5,405.4 323.0,408.6 327.8,411.0 334.3,414.3 340.8,419.1 344.1,425.6 347.3,432.1 350.5,438.6 355.4,445.1 363.5,448.3 371.6,451.6 376.5,456.4 377.3,458.9 309.2,458.9"/>
<polygon fill="#e6f5a0" points="344.9,419.9 348.9,415.1 357.0,411.8 366.8,411.0 376.5,411.0 381.4,412.6 382.2,416.7 378.1,421.6 371.6,424.8 365.1,428.1 357.0,428.1 350.5,426.4 346.5,424.0"/>
<polygon fill="#a0e632" points="352.2,419.1 357.0,416.2 365.1,415.9 373.2,415.6 376.5,416.7 374.9,419.9 368.4,422.4 360.3,423.7 354.6,422.1"/>
<polygon fill="#a0e632" points="309.2,406.2 314.9,410.2 319.7,415.9 324.6,422.4 327.8,428.9 332.7,435.4 337.6,443.5 342.4,451.6 345.7,458.9 309.2,458.9"/>
<polygon fill="#00dc00" points="309.2,417.5 314.9,422.4 318.1,428.9 323.0,435.4 326.2,443.5 329.5,451.6 331.9,458.9 309.2,458.9"/>
</g>
<g clip-path="url(#c23)">
<rect x="420" y="371" width="100" height="80" fill="#e6af2d"/>
<polygon fill="#e6dc32" points="416.5,363.2 423.0,366.4 432.7,367.6 442.4,366.9 450.5,363.2"/>
<polygon fill="#e6dc32" points="489.5,363.2 494.3,368.9 497.6,377.0 504.1,380.2 513.8,381.8 523.5,383.5 530.8,382.6 530.8,363.2"/>
<polygon fill="#f5f064" points="521.9,363.2 526.8,367.2 530.8,368.9 530.8,363.2"/>
</g>
<g clip-path="url(#c24)">
<rect x="520" y="371" width="100" height="80" fill="#e6af2d"/>
<polygon fill="#f08228" points="529.5,458.9 534.3,453.2 542.4,448.3 550.5,447.5 557.0,450.8 561.9,456.4 563.5,458.9"/>
<polygon fill="#e6dc32" points="509.2,363.2 621.9,363.2 621.9,458.9 581.4,458.9 579.7,449.9 578.9,441.8 574.9,435.4 570.0,428.9 563.5,422.4 557.0,415.9 550.5,407.8 545.7,401.3 543.2,394.8 544.9,388.3 544.9,383.5 534.3,382.6 523.0,383.1 514.9,382.6 509.2,381.8"/>
<polygon fill="#f5f064" points="519.7,363.2 526.2,367.2 534.3,372.1 542.4,375.4 548.9,380.2 553.8,386.7 558.6,393.2 563.5,398.9 568.4,404.5 574.9,411.0 581.4,415.9 586.2,420.8 587.8,428.9 586.2,437.0 587.8,445.1 591.1,453.2 592.7,458.9 621.9,458.9 621.9,363.2"/>
<polygon fill="#e6f5a0" points="526.2,363.2 534.3,368.9 542.4,373.7 550.5,378.6 557.0,383.5 561.9,389.9 566.8,396.4 570.0,402.9 576.5,407.8 583.0,411.0 589.5,414.3 594.3,419.1 597.6,425.6 604.1,432.1 612.2,440.2 618.6,446.7 621.9,448.3 621.9,363.2"/>
<polygon fill="#f5f064" points="570.0,385.9 573.2,381.8 579.7,380.2 584.6,382.6 586.2,387.5 583.0,391.6 576.5,393.2 571.6,390.8"/>
<polygon fill="#a0e632" points="542.4,363.2 547.3,368.9 553.8,374.5 560.3,377.8 565.1,375.4 570.0,372.9 574.9,375.4 581.4,378.6 587.8,381.8 590.3,388.3 588.6,394.8 584.6,399.7 581.4,404.5 586.2,409.4 592.7,412.6 597.6,417.5 602.4,424.0 608.9,430.5 615.4,435.4 621.9,438.6 621.9,363.2"/>
<polygon fill="#e6f5a0" points="613.8,420.8 617.0,417.5 621.9,417.5 621.9,428.9 616.2,428.1"/>
<polygon fill="#00dc00" points="546.5,363.2 552.2,370.5 557.0,372.1 561.9,368.9 568.4,365.6 574.9,368.9 581.4,373.7 587.8,378.6 591.1,385.1 594.3,391.6 597.6,398.1 600.8,404.5 605.7,411.0 608.9,417.5 615.4,414.3 621.9,412.6 621.9,363.2"/>
<polygon fill="#00b400" points="581.4,363.2 586.2,368.9 591.1,375.4 594.3,381.8 598.4,388.3 600.8,394.8 604.1,401.3 608.9,407.8 615.4,409.4 621.9,408.6 621.9,363.2"/>
<polygon fill="#007800" points="587.8,363.2 592.7,368.9 597.6,373.7 600.8,380.2 605.7,386.7 608.9,393.2 612.2,398.1 617.0,400.5 621.9,400.5 621.9,363.2"/>
<polygon fill="#2233f2" points="597.6,363.2 600.8,367.2 604.1,371.3 610.5,373.7 617.0,372.9 621.9,372.1 621.9,363.2"/>
</g>
<g clip-path="url(#c25)">
<rect x="120" y="451" width="100" height="80" fill="#e6dc32"/>
<polygon fill="#e6af2d" points="144.9,465.9 144.1,457.0 147.3,448.9 152.2,444.0 158.6,443.2 165.1,447.2 174.9,453.7 183.0,457.0 191.1,458.6 195.9,460.2 197.6,465.9"/>
<polygon fill="#f5f064" points="174.9,443.2 183.0,445.6 191.1,450.5 195.9,456.2 200.8,458.6 210.5,455.4 220.3,456.2 230.8,458.6 230.8,443.2"/>
<polygon fill="#e6f5a0" points="187.8,443.2 194.3,448.9 197.6,454.5 202.4,456.2 210.5,452.9 220.3,453.7 230.8,456.2 230.8,443.2"/>
<polygon fill="#a0e632" points="204.1,443.2 213.8,445.6 223.5,448.9 230.8,450.5 230.8,443.2"/>
</g>
<g clip-path="url(#c26)">
<rect x="220" y="451" width="100" height="80" fill="#a0e632"/>
<polygon fill="#00dc00" points="271.6,443.2 278.1,447.2 287.8,448.9 297.6,447.2 300.8,452.1 307.3,453.7 317.0,452.1 323.5,455.4 330.8,458.6 330.8,443.2"/>
<polygon fill="#00b400" points="278.1,443.2 286.2,446.4 294.3,444.8 295.9,443.2"/>
<polygon fill="#00dc00" points="313.8,484.5 318.6,482.9 325.1,485.4 330.8,487.8 330.8,495.9 323.5,494.3 317.0,492.6 313.8,489.4"/>
<polygon fill="#e6f5a0" points="227.8,443.2 235.9,446.4 244.1,450.5 253.8,454.5 263.5,453.7 273.2,452.1 281.4,457.0 287.8,460.2 289.5,466.7 286.2,473.2 291.1,479.7 297.6,486.2 304.1,491.0 310.5,495.9 317.0,499.1 323.5,504.0 326.8,512.1 328.4,521.8 330.8,525.1 330.8,538.9 209.2,538.9 209.2,443.2"/>
<polygon fill="#e6f5a0" points="303.2,465.9 308.9,462.6 314.6,465.9 310.5,469.1 305.7,468.3"/>
<polygon fill="#f5f064" points="209.2,452.9 216.5,453.7 226.2,455.4 235.9,454.5 244.1,456.2 252.2,461.0 261.9,464.3 268.4,468.3 271.6,473.2 276.5,481.3 283.0,486.2 289.5,491.0 295.9,495.9 302.4,497.5 308.9,500.8 315.4,505.6 320.3,512.1 323.5,520.2 325.1,529.1 209.2,529.1"/>
<polygon fill="#e6dc32" points="209.2,456.2 219.7,457.0 229.5,457.8 239.2,457.8 244.9,461.8 247.3,465.9 256.2,465.9 257.0,476.4 260.3,486.2 266.8,489.4 274.9,491.0 281.4,493.5 286.2,495.9 283.8,500.8 287.8,499.9 295.9,498.3 304.1,499.1 308.9,504.0 313.8,510.5 317.0,517.0 316.2,525.1 313.8,529.1 209.2,529.1"/>
<polygon fill="#e6af2d" points="209.2,459.4 219.7,459.4 229.5,460.2 239.2,461.0 244.1,465.1 256.2,465.9 257.0,492.6 263.5,493.5 271.6,495.1 274.9,499.9 278.1,505.6 284.6,507.2 291.1,504.8 297.6,503.2 304.1,504.0 308.9,508.9 313.0,515.4 313.8,521.8 311.4,529.1 209.2,529.1"/>
</g>
<g clip-path="url(#c27)">
<rect x="320" y="451" width="100" height="80" fill="#e6f5a0"/>
<polygon fill="#a0e632" points="326.2,443.2 335.9,443.2 342.4,450.5 347.3,458.6 353.8,465.1 361.9,469.9 371.6,474.0 379.7,474.0 386.2,469.9 391.1,468.3 395.9,473.2 399.2,478.1 394.3,483.7 387.8,481.3 383.0,483.7 380.5,491.0 384.6,497.5 389.5,502.4 391.9,508.9 391.1,517.0 387.8,523.5 386.2,529.1 335.9,529.1 332.7,520.2 332.7,512.1 335.1,504.0 334.3,499.1 326.2,497.5 318.1,497.5 309.2,495.9 309.2,469.9 313.2,468.3 316.5,465.1 313.2,462.6 309.2,462.6 309.2,443.2"/>
<polygon fill="#00dc00" points="309.2,443.2 327.0,443.2 330.3,450.5 331.9,455.4 326.2,457.8 318.1,456.2 309.2,455.4"/>
<polygon fill="#00dc00" points="328.6,468.3 331.9,461.8 337.6,466.7 343.2,472.4 339.2,476.4 332.7,474.8 329.5,473.2"/>
<polygon fill="#00dc00" points="312.4,484.5 318.1,482.9 326.2,485.4 332.7,487.8 339.2,485.4 347.3,484.5 357.0,485.4 363.5,487.8 368.4,492.6 370.8,499.1 371.6,506.4 376.5,510.5 381.4,512.9 382.2,517.0 378.1,520.2 371.6,521.0 363.5,520.2 359.5,517.0 357.0,510.5 356.2,500.8 353.8,495.9 347.3,493.5 339.2,494.3 332.7,491.8 324.6,492.6 316.5,491.0 312.4,487.8"/>
<polygon fill="#f5f064" points="352.2,443.2 358.6,447.2 365.1,448.9 371.6,453.7 376.5,458.6 383.0,460.2 391.1,460.2 397.6,463.5 405.7,468.3 413.8,471.6 423.5,473.2 430.8,474.8 430.8,443.2"/>
<polygon fill="#e6dc32" points="378.1,443.2 386.2,448.1 395.9,453.7 405.7,458.6 415.4,462.6 425.1,466.7 430.8,468.3 430.8,443.2"/>
<polygon fill="#e6af2d" points="384.6,443.2 394.3,448.1 404.1,452.9 413.8,457.8 423.5,461.8 430.8,463.5 430.8,443.2"/>
<polygon fill="#f5f064" points="403.2,500.8 408.9,495.9 417.0,498.3 423.5,500.8 430.8,500.8 430.8,529.1 397.6,529.1 398.4,520.2 404.1,512.1 404.1,505.6"/>
<polygon fill="#e6dc32" points="421.9,529.1 425.1,521.8 430.8,515.4 430.8,529.1"/>
<polygon fill="#e6af2d" points="425.1,529.1 428.4,523.5 430.8,521.0 430.8,529.1"/>
<polygon fill="#f5f064" points="309.2,498.3 316.5,499.1 319.7,504.0 318.1,512.1 318.9,520.2 318.1,529.1 309.2,529.1"/>
<polygon fill="#e6dc32" points="309.2,504.0 313.2,507.2 315.7,515.4 316.5,529.1 309.2,529.1"/>
<polygon fill="#e6af2d" points="309.2,508.9 312.4,513.7 314.1,521.8 313.2,529.1 309.2,529.1"/>
</g>
<g clip-path="url(#c28)">
<rect x="420" y="451" width="100" height="80" fill="#e6af2d"/>
<polygon fill="#f08228" points="530.8,458.6 526.8,461.8 521.9,466.7 515.4,469.9 510.5,474.0 504.1,476.4 500.8,481.3 495.9,486.2 489.5,490.2 494.3,495.9 500.8,502.4 507.3,508.9 513.8,515.4 520.3,521.8 525.1,529.1 530.8,529.1"/>
<polygon fill="#e6dc32" points="409.2,457.8 416.5,461.8 426.2,465.1 435.9,469.1 445.7,473.2 453.8,478.1 460.3,484.5 468.4,489.4 476.5,494.3 483.0,499.1 489.5,504.8 495.9,510.5 502.4,515.4 508.9,520.2 515.4,525.1 518.6,529.1 491.1,529.1 484.6,525.9 476.5,525.1 466.8,524.3 458.6,520.2 452.2,517.0 455.4,513.7 450.5,511.3 442.4,509.7 435.9,512.1 431.1,517.0 426.2,523.5 423.0,529.1 409.2,529.1"/>
<polygon fill="#f5f064" points="409.2,461.8 416.5,465.9 426.2,469.9 435.9,472.4 445.7,475.6 452.2,481.3 457.0,487.8 463.5,494.3 470.0,499.9 472.4,504.0 465.1,506.4 455.4,506.4 445.7,506.4 439.2,508.1 434.3,510.5 427.8,515.4 423.0,521.8 418.1,529.1 409.2,529.1"/>
<polygon fill="#e6f5a0" points="409.2,473.2 414.9,474.8 421.4,478.9 427.8,484.5 432.7,490.2 431.1,495.9 424.6,500.8 416.5,497.5 409.2,496.7"/>
<polygon fill="#e6f5a0" points="434.3,478.9 439.2,480.5 445.7,486.2 452.2,491.8 454.6,495.9 448.9,497.5 442.4,495.9 437.6,489.4 434.3,484.5"/>
</g>
<g clip-path="url(#c29)">
<rect x="520" y="451" width="100" height="80" fill="#e6af2d"/>
<polygon fill="#f08228" points="509.2,478.1 514.9,469.9 521.4,465.1 527.8,457.8 534.3,450.5 542.4,448.1 550.5,447.2 557.0,452.1 561.9,458.6 566.8,465.1 571.6,471.6 574.9,478.1 576.5,484.5 578.1,491.0 581.4,497.5 586.2,504.0 589.5,510.5 590.3,518.6 589.5,529.1 509.2,529.1"/>
<polygon fill="#ff5a00" points="557.0,529.1 558.6,521.8 561.9,515.4 566.8,508.9 573.2,505.3 579.7,505.6 584.6,508.9 587.0,515.4 588.6,521.8 588.6,529.1"/>
<polygon fill="#e6dc32" points="581.4,443.2 621.9,443.2 621.9,529.1 594.3,529.1 597.6,520.2 599.2,512.1 598.4,504.0 600.8,497.5 604.9,491.0 604.1,484.5 599.2,480.5 594.3,478.1 591.1,472.4 589.5,463.5 587.8,453.7 586.2,447.2"/>
<polygon fill="#f5f064" points="587.8,443.2 621.9,443.2 621.9,476.4 617.0,474.8 612.2,471.6 607.3,466.7 602.4,461.8 597.6,457.8 592.7,453.7 589.5,448.9"/>
<polygon fill="#f5f064" points="605.7,502.4 610.5,499.1 617.0,499.9 621.9,501.6 621.9,525.1 617.0,523.5 610.5,517.0 606.5,508.9"/>
<polygon fill="#e6f5a0" points="610.5,508.9 615.4,506.4 619.5,508.9 620.3,515.4 617.0,516.2 613.0,513.7"/>
<polygon fill="#a0e632" points="613.8,443.2 617.8,445.6 621.9,448.1 621.9,443.2"/>
<polygon fill="#e6dc32" points="509.2,521.8 514.9,525.1 519.7,529.1 509.2,529.1"/>
</g>
<g clip-path="url(#c30)">
<rect x="220" y="104" width="72" height="56" fill="#f0ffff"/>
<polygon fill="#ffffff" points="247.5,102.2 260.5,101.1 267.0,106.5 273.5,110.8 269.1,114.1 262.6,110.8 256.1,107.6"/>
<polygon fill="#ffffff" points="278.9,132.5 282.1,128.1 288.6,126.0 295.6,127.1 295.6,143.3 282.1,143.3 280.0,137.9"/>
<polygon fill="#b0e0e6" points="272.4,110.8 275.6,107.6 282.1,105.4 284.3,102.2 283.2,99.5 295.6,99.5 295.6,113.0 290.8,113.0 284.3,114.1 277.8,114.6 273.5,113.5"/>
<polygon fill="#00a0e6" points="284.3,99.5 295.6,99.5 295.6,105.4 290.8,106.0 285.4,104.3"/>
<polygon fill="#b0e0e6" points="238.3,99.5 245.3,99.5 247.5,105.4 251.8,108.7 256.1,111.9 260.5,116.2 264.8,121.7 269.1,127.1 271.3,133.6 273.5,139.0 275.6,143.3 252.3,144.4 251.8,139.0 252.3,132.5 252.3,126.0 250.7,120.6 246.4,116.2 242.1,111.9 239.4,106.5"/>
<polygon fill="#00a0e6" points="231.2,99.5 238.3,99.5 239.4,106.5 242.1,111.9 246.4,116.2 250.7,120.6 252.3,126.0 252.3,132.5 251.8,139.0 252.3,144.4 250.7,145.5 250.2,134.6 248.6,130.3 245.3,126.0 241.0,121.7 237.7,117.3 235.0,111.9 232.9,105.4"/>
<polygon fill="#2233f2" points="223.1,99.5 231.2,99.5 232.9,105.4 235.0,111.9 237.7,117.3 241.0,121.7 245.3,126.0 248.6,130.3 250.2,134.6 249.6,139.0 250.7,143.3 250.7,146.5 246.4,147.6 239.9,150.9 238.3,155.2 238.8,160.6 239.9,163.3 233.4,163.3 232.3,156.3 231.2,149.8 231.2,145.5 233.4,143.3 237.7,140.1 241.0,136.8 242.1,132.5 239.9,129.2 236.7,124.9 233.4,121.7 228.0,122.2 224.7,121.1 222.0,118.4 222.6,113.0 223.1,106.5"/>
<polygon fill="#007800" points="214.5,99.5 223.1,99.5 223.1,106.5 222.6,113.0 222.0,118.4 224.7,121.1 228.0,122.2 225.8,125.4 221.5,126.0 217.2,124.9 214.5,124.4"/>
<polygon fill="#00b400" points="214.5,124.4 217.2,124.9 221.5,126.0 225.8,126.0 230.2,127.1 234.5,128.1 237.7,131.4 238.3,135.7 235.6,139.0 232.3,141.7 229.6,143.3 229.1,147.6 230.2,154.1 231.2,163.3 214.5,163.3"/>
<polygon fill="#00dc00" points="214.5,129.2 218.2,130.9 221.5,130.3 224.7,132.5 226.9,136.8 226.4,142.2 225.3,147.6 224.7,154.1 223.7,163.3 214.5,163.3"/>
<polygon fill="#007800" points="228.0,122.2 233.4,121.7 236.7,124.9 239.9,129.2 242.1,132.5 241.0,136.8 237.7,140.1 233.4,143.3 231.2,145.5 231.2,149.8 232.3,156.3 233.4,163.3 231.2,163.3 230.2,154.1 229.1,147.6 229.6,143.3 232.3,141.7 235.6,139.0 238.3,135.7 237.7,131.4 234.5,128.1 230.2,127.1 225.8,126.0"/>
<polygon fill="#00a0e6" points="238.3,155.2 239.9,150.9 246.4,147.6 250.7,146.5 257.2,147.6 262.6,149.8 269.1,150.9 273.5,148.7 277.8,147.6 282.1,148.7 286.4,150.9 290.8,154.1 295.6,156.3 295.6,160.6 290.8,159.0 285.4,156.3 280.0,154.1 275.6,153.0 271.3,155.2 269.1,158.5 267.0,163.3 239.9,163.3 238.8,160.6"/>
<polygon fill="#b0e0e6" points="256.7,144.9 282.1,144.4 286.4,147.6 290.8,150.9 295.6,153.0 295.6,156.3 290.8,154.1 286.4,150.9 282.1,148.7 277.8,147.6 273.5,148.7 269.1,150.9 262.6,149.8 258.3,148.2"/>
<polygon fill="#f0ffff" points="275.6,144.6 282.1,144.2 288.6,147.6 295.6,150.9 295.6,153.0 290.8,150.9 286.4,147.6 282.1,146.0"/>
<polygon fill="#2233f2" points="267.0,163.3 269.1,158.5 271.3,155.2 275.6,153.0 280.0,154.1 285.4,156.3 290.8,159.0 295.6,160.6 295.6,163.3"/>
<polygon fill="#007800" points="269.1,163.3 272.4,158.5 275.6,155.8 280.0,156.8 285.4,159.0 290.8,161.7 294.0,163.3"/>
<polygon fill="#00b400" points="272.4,163.3 275.6,159.0 280.0,159.0 285.4,161.7 288.6,163.3"/>
</g>
<g clip-path="url(#c31)">
<rect x="258" y="150" width="67" height="61" fill="#f0ffff"/>
<polygon fill="#ffffff" points="303.8,153.4 308.7,152.2 314.8,154.6 319.6,160.7 323.3,168.0 328.2,174.1 333.0,180.2 340.4,183.9 345.9,185.1 345.9,180.2 337.9,175.4 333.0,170.5 329.4,164.4 325.7,157.1 320.9,151.0 316.0,147.3 308.7,144.9 301.3,143.7 295.2,139.4 286.7,139.4 291.6,146.1 297.7,151.0"/>
<polygon fill="#b0e0e6" points="312.3,147.3 318.4,144.9 323.3,146.1 327.0,151.0 330.6,157.1 334.3,163.2 339.1,168.0 345.9,170.5 345.9,139.4 335.5,139.4 333.0,144.9 328.2,147.3 320.9,143.7 314.8,143.0"/>
<polygon fill="#00a0e6" points="325.7,148.5 330.6,154.6 335.5,160.7 340.4,164.4 345.9,166.2 345.9,139.4 335.5,139.4 334.3,144.9 330.6,147.3"/>
<polygon fill="#b0e0e6" points="318.4,181.5 323.3,182.7 328.2,188.8 333.0,194.9 339.1,203.4 342.8,212.0 328.2,212.0 323.3,201.0 320.9,191.2"/>
<polygon fill="#b0e0e6" points="254.4,139.4 284.3,139.4 279.4,143.0 272.1,143.7 262.3,144.3 254.4,144.9"/>
<polygon fill="#b0e0e6" points="254.4,144.9 262.3,147.3 267.2,149.1 273.3,147.3 279.4,146.1 285.5,147.9 291.6,151.6 297.7,155.9 303.8,160.1 308.7,163.8 313.5,168.7 317.2,174.1 319.0,180.2 319.6,188.8 319.0,194.9 320.9,202.2 325.7,208.3 328.2,212.0 254.4,212.0"/>
<polygon fill="#00a0e6" points="254.4,148.5 259.9,151.0 266.0,151.0 272.1,149.1 278.2,147.9 284.3,149.8 290.4,153.4 296.5,157.7 302.6,162.0 307.4,165.6 312.3,170.5 315.4,176.0 317.2,181.5 317.8,188.8 317.4,196.1 319.0,203.4 323.3,210.1 325.1,212.0 254.4,212.0"/>
<polygon fill="#2233f2" points="254.4,155.9 259.9,156.5 266.0,154.6 270.9,152.2 275.7,150.4 281.8,151.0 287.9,154.0 294.0,158.3 300.1,162.6 306.2,166.8 310.5,171.7 313.5,176.6 316.0,182.7 316.6,191.2 316.0,197.3 317.2,203.4 320.9,209.5 323.3,212.0 254.4,212.0"/>
<polygon fill="#007800" points="254.4,180.2 259.9,176.6 264.8,174.1 267.2,171.7 269.0,164.4 272.1,157.1 275.7,153.4 283.0,153.4 289.1,157.1 295.2,160.7 301.3,165.6 307.4,169.3 311.7,175.4 314.8,181.5 315.4,188.8 314.8,196.1 316.0,203.4 318.4,208.3 320.9,212.0 254.4,212.0"/>
<polygon fill="#00b400" points="254.4,187.0 258.7,182.1 263.5,177.8 267.8,174.1 270.2,169.3 271.5,163.2 273.9,158.3 277.6,155.9 283.0,155.9 287.9,158.9 292.8,162.0 297.7,165.0 302.6,168.7 306.8,171.7 309.9,176.6 312.3,182.1 312.9,188.8 312.3,194.9 313.3,201.0 315.4,205.9 317.8,212.0 254.4,212.0"/>
<polygon fill="#00dc00" points="254.4,190.0 258.7,186.3 262.3,182.7 267.2,180.2 272.1,179.6 275.1,181.5 276.3,186.3 277.6,192.4 279.4,198.5 280.0,205.9 280.6,212.0 254.4,212.0"/>
<polygon fill="#00dc00" points="284.3,182.7 287.9,180.2 292.8,182.1 297.7,183.3 303.8,183.9 305.6,187.6 304.4,192.4 302.6,197.3 303.2,203.4 305.0,208.3 306.8,212.0 285.5,212.0 284.9,205.9 285.5,198.5 284.9,191.2"/>
<polygon fill="#a0e632" points="254.4,193.7 259.9,191.2 266.0,190.0 270.9,192.4 274.5,197.3 276.3,203.4 277.0,212.0 254.4,212.0"/>
<polygon fill="#a0e632" points="286.1,212.0 287.0,205.9 289.1,200.4 292.8,197.9 296.5,199.8 299.5,204.6 302.0,212.0"/>
<polygon fill="#007800" points="289.8,164.4 294.0,166.2 298.9,169.3 303.8,173.5 306.2,177.8 304.4,180.9 298.9,180.2 292.8,178.4 289.1,175.4 287.9,170.5"/>
</g>
</g>
<g clip-path="url(#cp)" stroke="#84848e" stroke-width="1" stroke-dasharray="2,4" stroke-dashoffset="2" fill="none" shape-rendering="crispEdges">
<line x1="136.20" y1="51" x2="136.20" y2="530"/>
<line x1="196.50" y1="51" x2="196.50" y2="530"/>
<line x1="256.80" y1="51" x2="256.80" y2="530"/>
<line x1="317.10" y1="51" x2="317.10" y2="530"/>
<line x1="377.40" y1="51" x2="377.40" y2="530"/>
<line x1="437.70" y1="51" x2="437.70" y2="530"/>
<line x1="498.00" y1="51" x2="498.00" y2="530"/>
<line x1="558.30" y1="51" x2="558.30" y2="530"/>
<line x1="618.60" y1="51" x2="618.60" y2="530"/>
<line x1="121" y1="106.50" x2="619" y2="106.50"/>
<line x1="121" y1="180.25" x2="619" y2="180.25"/>
<line x1="121" y1="254.00" x2="619" y2="254.00"/>
<line x1="121" y1="327.75" x2="619" y2="327.75"/>
<line x1="121" y1="401.50" x2="619" y2="401.50"/>
<line x1="121" y1="475.25" x2="619" y2="475.25"/>
</g>
<g clip-path="url(#cp)" stroke="#5c5c6a" stroke-width="2" fill="none" stroke-linejoin="round" stroke-linecap="round">
<g clip-path="url(#l0)">
<polyline points="157.0,52.1 160.3,54.1 165.1,55.7 170.0,57.3 174.9,56.6 179.7,58.3 184.6,59.4 191.1,61.0 197.6,62.2 204.1,63.8 210.5,65.1 220.3,65.1 230.8,64.3"/>
<polyline points="230.8,75.6 226.8,77.2 221.9,81.0 218.3,83.7 220.3,88.6 223.5,90.2 230.8,91.0"/>
<polyline points="230.8,99.9 226.8,101.6 225.1,105.6 227.6,108.9 230.8,108.9"/>
<polyline points="181.4,138.4 186.2,136.4 194.3,133.2 199.2,131.6 201.6,125.1 204.9,123.1 210.5,123.5 215.4,125.1 218.6,129.1 223.5,127.5 230.8,122.6"/>
</g>
<g clip-path="url(#l1)">
<polyline points="209.2,64.3 219.7,64.8 231.1,65.1 239.2,67.5 248.9,68.3 257.0,69.1 261.9,70.8 265.9,74.0 276.5,74.5 287.8,75.6 295.9,73.2 304.1,69.1 307.3,63.5 310.5,60.2 317.0,58.6 330.8,57.8"/>
<polyline points="239.2,67.5 238.9,71.6 234.3,73.2 227.8,76.4 223.0,79.7 218.9,83.7 220.5,87.8 226.2,89.4 232.7,91.8 235.9,92.6 234.3,97.5 229.5,99.9 226.2,104.8 229.5,108.9 232.7,107.2 234.3,112.1 232.7,117.0 231.1,120.2 229.5,123.5 234.3,122.6 239.2,125.1 244.1,128.3 248.9,132.4 251.4,134.0 248.9,138.9"/>
<polyline points="209.2,122.6 216.5,124.3 221.4,128.3 226.2,126.7 229.5,123.5"/>
<polyline points="286.2,138.9 291.1,130.8 293.5,131.6 295.9,138.9"/>
</g>
<g clip-path="url(#l2)">
<polyline points="309.2,60.2 319.7,58.6 334.3,57.0 355.4,54.1 373.2,51.8"/>
<polyline points="397.6,51.8 402.4,57.8 407.3,65.1 410.5,69.1 420.3,73.2 426.8,77.2 430.0,80.5 430.3,85.4"/>
<polyline points="407.3,66.7 402.4,66.7 394.3,67.5 391.9,69.9 392.7,74.0 387.8,75.6 383.0,77.2 381.4,80.5 374.9,84.5 366.8,87.8 357.0,89.4 353.8,92.6 353.0,97.5 356.2,99.9 359.5,101.1 360.3,108.9 358.6,117.8 353.8,117.8 347.3,118.6 340.8,121.0 335.9,124.3 334.3,127.5 338.4,127.5 336.8,132.4 335.1,138.9"/>
</g>
<g clip-path="url(#l3)">
<polyline points="409.2,69.1 416.5,72.4 423.0,76.4 429.5,80.5 430.3,84.5 434.3,88.6 442.4,91.0 448.1,92.6 452.2,99.1 453.8,105.6 459.5,110.5 465.1,109.7 471.6,110.5 475.7,114.5 478.1,118.6 487.8,121.8 500.8,121.8 510.5,121.8 517.0,124.3 523.5,124.8 527.6,121.8 530.8,121.5"/>
</g>
<g clip-path="url(#l4)">
<polyline points="509.2,121.8 514.9,123.5 521.4,125.1 526.2,123.5 532.7,118.6 538.4,113.7 542.4,112.9 547.3,113.7 553.8,110.5 558.6,108.1 561.9,105.3 565.9,104.8 567.6,106.4 574.9,106.4 581.4,103.2 586.2,99.1 591.1,93.5 592.7,91.8"/>
<polyline points="602.4,92.3 607.3,94.6 613.8,94.6 619.5,93.9"/>
<polyline points="547.3,113.7 550.5,117.0 554.6,121.8 556.2,126.7 555.4,132.4 553.0,136.4 552.2,139.7"/>
</g>
<g clip-path="url(#l5)">
<polyline points="204.1,123.2 201.6,127.2 202.4,131.3 197.6,132.9 191.1,133.7 184.6,137.0 178.1,140.2 171.6,142.6 165.1,145.1 161.9,145.9 163.5,142.6 171.6,139.9 165.1,137.8 158.6,140.2 152.2,145.1 147.3,151.6 144.9,157.2 146.5,162.1 151.4,166.2 154.6,171.0 157.0,175.9 161.9,178.3 168.1,181.1 166.8,185.6 164.3,192.1 160.3,194.5 158.6,192.1 153.0,192.1 151.4,195.4 150.5,201.8 151.4,208.3 152.2,218.9"/>
<polyline points="161.9,145.9 157.8,149.1 154.6,154.8"/>
<polyline points="160.3,186.4 162.2,188.9 160.6,191.3 159.5,188.9 160.3,186.4"/>
<polyline points="210.5,123.2 215.4,125.6 220.3,129.7 226.8,127.2 230.8,123.2"/>
<polyline points="225.1,142.6 226.8,148.3 228.4,156.4 230.8,162.9"/>
</g>
<g clip-path="url(#l6)">
<polyline points="244.9,123.2 246.5,127.2 248.9,131.3 244.9,133.7 240.8,136.2 234.3,140.2 231.1,143.5 226.2,143.1 228.6,149.9 231.1,158.1 234.3,166.2 239.2,175.9 244.1,184.0 246.5,190.5 251.4,196.2 256.2,192.9 257.8,188.1 263.5,182.4 266.8,180.8 267.6,174.3 270.8,167.8 272.4,161.3 274.9,154.8 279.7,154.0 286.2,156.4 291.1,160.5 297.6,164.5 304.1,169.4 308.9,174.3 312.2,180.8 311.4,188.9 310.5,195.4 311.4,203.5 315.4,209.9 321.9,216.4 326.8,219.7"/>
<polyline points="218.1,129.7 226.2,125.6 231.1,123.2"/>
<polyline points="231.1,143.5 235.9,146.7 247.3,145.9 257.0,145.1 271.6,143.8 281.4,143.1 286.2,138.6 290.3,131.3 292.7,131.3 295.9,136.2 300.8,140.2 305.7,145.1 313.8,143.5 321.9,145.1 326.8,147.5 330.8,147.5"/>
<polyline points="290.3,161.3 286.2,167.8 282.2,173.5 285.4,177.5 291.1,179.9 297.6,182.4 303.2,183.2 305.7,180.8 304.1,176.7 300.0,172.6 295.9,167.0 292.7,162.1 290.3,161.3"/>
<polyline points="274.9,167.0 273.2,171.0 274.9,175.1 278.9,178.3 280.5,182.4 277.3,186.4 276.5,192.1 278.1,200.2 278.9,208.3 281.4,213.2 286.2,218.9"/>
<polyline points="277.3,167.0 278.1,172.6 279.7,177.5 283.0,181.6 283.3,188.9 283.8,197.0 286.2,203.5 287.8,206.7 285.4,209.1 282.2,205.9 279.7,201.8"/>
<polyline points="300.0,201.8 305.7,206.7 310.5,211.6 317.0,217.2"/>
<polyline points="305.7,208.3 312.2,209.9 317.0,214.8 323.5,219.7"/>
</g>
<g clip-path="url(#l7)">
<polyline points="334.3,123.2 333.5,126.4 338.4,126.4 338.4,130.5 335.1,133.7 335.1,140.2 334.3,144.3 331.1,147.5 326.2,147.5 319.7,144.3 313.2,143.1 309.2,143.5"/>
<polyline points="430.8,162.1 426.8,165.4 420.3,164.5 413.8,162.6 408.9,162.9 404.9,167.0 400.8,172.6 398.4,178.3 395.1,179.9 390.3,177.5 386.2,172.6 381.4,167.0 377.3,163.4 371.6,162.6 366.8,163.7 363.8,167.0 363.2,174.3 363.2,182.4 361.9,188.9 361.1,193.7 365.1,197.8 370.0,200.2 374.9,201.0 377.3,205.1 378.9,209.9 382.2,214.8 385.4,219.7"/>
<polyline points="309.2,187.2 311.6,193.7 313.2,201.8 315.7,208.3 318.1,212.4 321.4,219.7"/>
</g>
<g clip-path="url(#l8)">
<polyline points="409.2,162.6 416.5,164.5 425.4,165.8 431.9,159.7 437.6,162.9 445.7,167.5 453.8,167.0 461.9,169.4 468.4,171.8 474.9,171.0 481.4,171.8 488.6,175.9 495.9,172.6 501.6,171.8 507.3,173.5 511.4,172.6 512.2,170.2 520.3,171.0 530.8,172.3"/>
<polyline points="513.8,124.0 521.9,124.8 526.8,124.0"/>
</g>
<g clip-path="url(#l9)">
<polyline points="556.2,123.2 556.7,130.5 553.0,133.7 551.8,137.0 554.6,140.2 558.6,139.4 562.7,140.2 563.5,142.6 559.5,143.5 557.8,145.1 557.8,149.9 558.6,153.2 563.5,157.2 570.0,160.5 578.1,162.6 583.8,163.7 583.8,166.5 579.7,167.0 574.9,165.4 570.8,163.7 568.1,164.5 565.9,171.0 564.3,177.5 561.9,184.0 558.6,188.1"/>
<polyline points="509.2,171.0 514.9,170.2 524.6,171.0 534.3,172.6 540.8,175.9 545.7,179.9 544.9,184.8 548.9,188.9 558.6,189.7 565.1,187.2 574.9,185.6 581.4,188.1 580.5,193.7 578.1,200.2 574.9,206.7 570.0,212.4 565.9,219.7"/>
<polyline points="513.2,124.0 521.4,124.8 526.2,124.0"/>
</g>
<g clip-path="url(#l10)">
<polyline points="150.5,203.2 151.4,210.5 153.0,218.6 155.4,226.7 158.6,234.8 161.9,239.7 166.8,244.5 171.6,249.4 176.5,254.3 181.4,255.6 186.2,256.7 191.1,259.9 197.6,264.8 204.1,269.7 210.5,275.4 217.0,279.4 223.5,281.8 230.8,283.5"/>
<polyline points="159.5,258.3 161.9,255.6 165.9,254.6 166.8,257.5 165.1,260.8 161.9,261.6 159.5,258.3"/>
</g>
<g clip-path="url(#l11)">
<polyline points="209.2,273.7 213.2,277.8 219.7,280.2 226.2,281.5 230.3,283.5 232.7,288.3 235.1,294.0 236.8,299.7"/>
<polyline points="277.3,205.6 279.7,210.5 283.8,215.4 288.6,219.4"/>
<polyline points="278.1,205.9 280.5,210.8 284.6,215.7 289.1,218.6"/>
<polyline points="281.4,203.2 278.9,207.2 281.4,210.5 284.6,207.2 287.8,205.6 288.6,203.2"/>
<polyline points="300.8,203.2 307.3,210.5 315.4,217.0 323.5,223.5 330.8,229.9"/>
<polyline points="307.3,203.2 315.4,210.5 323.5,218.6 330.8,225.1"/>
<polyline points="313.8,210.5 320.3,220.2 323.5,229.9 326.8,236.4 330.8,239.7"/>
<polyline points="308.1,241.3 313.8,247.8 318.6,253.5 323.5,259.1 326.8,263.2"/>
<polyline points="308.9,241.0 314.6,247.5 319.5,253.1 324.3,258.8 327.6,262.4"/>
<polyline points="323.5,255.9 330.8,259.1"/>
</g>
<g clip-path="url(#l12)">
<polyline points="309.2,208.9 316.5,215.4 324.6,221.8 332.7,229.1 334.3,233.2 327.8,234.0 324.6,234.8 326.2,238.9 331.1,244.5 337.6,251.0 344.1,255.9 350.5,260.8 357.0,267.2 363.5,271.3 370.0,274.5 374.9,278.6 372.4,284.3 374.9,288.3 378.9,292.4 384.6,290.8 391.1,287.5 397.6,286.7 404.1,287.5 410.5,289.9 417.0,294.0 423.5,297.2 430.8,297.7"/>
<polyline points="309.2,204.8 316.5,212.1 323.0,217.8 329.5,223.5 335.9,228.3 342.4,231.6 348.9,234.0"/>
<polyline points="309.2,212.1 314.9,217.8 318.1,220.2"/>
<polyline points="309.2,242.1 314.9,248.6 319.7,254.3 324.6,258.3 329.5,259.9 329.1,262.4 326.2,263.2 321.4,259.1 316.5,254.3"/>
<polyline points="376.5,203.2 378.9,210.5 385.4,217.0 387.8,223.5 388.6,229.9 386.2,236.4 387.0,238.9 392.7,238.9 395.9,242.9 400.0,248.6 405.7,251.8 410.5,252.6 415.4,257.5 420.3,264.0 425.1,270.5 430.8,276.2"/>
</g>
<g clip-path="url(#l13)">
<polyline points="409.2,252.6 414.9,259.1 421.4,267.2 427.8,275.4 434.3,282.6 440.0,288.3 445.7,290.8 453.8,292.4 454.6,299.7"/>
<polyline points="409.2,291.6 414.9,294.0 421.4,297.2 429.5,298.4"/>
</g>
<g clip-path="url(#l14)">
<polyline points="576.5,203.2 571.6,208.9 565.9,215.4 565.1,221.8 564.3,227.5 567.6,232.4 574.9,234.8 581.4,239.7 586.2,243.7 591.1,247.0 595.9,250.2 594.3,253.5 590.3,256.7 581.4,256.7 576.5,253.5 573.2,252.3 572.4,254.3 574.9,258.3 579.7,262.4 584.6,266.4 588.6,270.5 589.5,277.0 588.6,283.5 581.4,285.9 573.2,288.3 565.1,287.5 558.6,286.7 555.4,289.9 557.0,294.8 558.6,299.7"/>
<polyline points="573.2,288.3 576.5,293.2 581.4,298.9"/>
</g>
<g clip-path="url(#l15)">
</g>
<g clip-path="url(#l16)">
<polyline points="229.5,283.2 234.3,290.5 239.2,300.2 244.1,309.9 246.5,319.7 248.9,329.4 252.2,339.1 255.4,347.2 260.3,353.7 265.1,360.2 270.0,366.7 274.9,369.9 279.7,374.8 283.0,379.7"/>
</g>
<g clip-path="url(#l17)">
<polyline points="371.6,283.2 374.9,288.1 379.7,291.3 386.2,291.3 391.1,288.1 399.2,286.4 405.7,288.1 410.5,292.1 417.0,295.4 423.5,297.8 430.8,300.2"/>
<polyline points="430.8,301.0 421.9,299.4 412.2,298.6 404.1,299.4 401.6,301.8 403.2,305.1 410.5,307.5 420.3,308.3 430.8,308.3"/>
<polyline points="430.8,314.8 421.9,313.2 412.2,310.8 404.1,310.8 400.0,313.2 405.7,315.6 413.8,318.1 423.5,318.9 430.8,318.9"/>
<polyline points="379.7,323.7 382.2,321.3 387.8,320.5 391.9,322.1 391.9,324.5 388.6,327.0 383.0,327.5 379.7,323.7"/>
<polyline points="430.8,330.2 423.5,328.1 417.8,327.5 414.6,328.6 417.0,331.8 423.5,333.5 430.8,335.1"/>
</g>
<g clip-path="url(#l18)">
<polyline points="409.2,291.3 419.7,294.5 427.8,298.6 434.3,301.8 442.4,309.9 450.5,315.6 458.6,321.3 465.1,327.0 470.0,331.0 474.9,332.6 481.4,333.5 486.2,334.3 487.8,337.5 492.7,342.4 499.2,346.4 505.7,350.5 512.2,354.5 520.3,356.2 525.1,360.2 526.8,365.1 530.8,369.9"/>
<polyline points="409.2,298.6 419.7,299.4 427.8,301.8 431.1,305.1 427.8,307.5 418.1,307.5 409.2,306.7"/>
<polyline points="409.2,310.8 416.5,313.2 426.2,315.6 435.9,316.4 444.1,316.4 444.1,318.9 435.9,319.4 426.2,320.0 416.5,318.9 409.2,316.4"/>
<polyline points="435.9,317.2 444.1,317.2 444.1,318.4 435.9,318.4"/>
<polyline points="414.9,328.6 419.7,327.5 429.5,329.4 439.2,331.0 447.3,331.0 448.1,332.6 442.4,334.3 431.1,334.6 421.4,333.5 417.3,331.8 414.9,328.6"/>
<polyline points="474.9,333.5 470.0,332.6 463.5,330.2 455.4,327.0 447.3,324.5 438.4,323.7 437.6,327.0 445.7,328.6 455.4,331.0 463.5,334.3 471.6,337.5 479.7,339.9 486.2,342.4 492.7,345.6"/>
<polyline points="457.0,343.2 460.3,341.6 466.8,342.4 474.9,344.8 481.4,348.1 481.4,350.2 474.9,348.9 466.8,346.4 458.6,345.6 457.0,343.2"/>
<polyline points="466.8,344.3 474.9,346.9 481.0,349.2"/>
<polyline points="435.9,283.2 442.4,288.1 448.9,291.3 453.5,294.5 453.8,300.2 456.2,306.7 460.3,311.6 465.1,314.8 470.0,318.1 474.9,321.3 478.1,325.4 478.1,330.2 474.9,332.6"/>
<polyline points="491.1,344.0 497.6,348.1 504.1,352.1 510.5,357.0 517.0,361.8 523.5,366.7 530.8,372.4"/>
<polyline points="530.8,327.0 527.6,331.0 525.1,337.5 526.8,344.0 530.8,348.1"/>
<polyline points="525.1,360.2 525.5,355.4 530.8,352.1"/>
</g>
<g clip-path="url(#l19)">
<polyline points="509.2,352.1 514.9,356.2 519.7,360.2 523.8,365.1 527.8,368.3 531.1,370.8 534.3,369.1 539.2,368.3 540.8,370.8 535.9,373.2 532.7,371.6"/>
<polyline points="531.1,370.8 535.9,374.8 542.4,379.7"/>
<polyline points="525.4,361.8 526.2,358.6 531.1,353.7 532.7,348.9 529.5,344.0 526.2,339.1 526.2,332.6 527.8,327.0 532.7,323.7 537.6,321.3 539.2,314.8 540.0,308.3 544.1,303.5 550.5,300.2 555.4,301.8 557.0,306.7 560.3,309.1 563.5,306.7 562.7,300.2 560.3,295.4 555.4,291.3 557.0,287.2 560.3,283.2"/>
<polyline points="560.3,283.2 565.1,285.6 571.6,288.9 578.1,286.4 584.6,284.0 589.5,283.2"/>
<polyline points="571.6,288.9 574.9,293.7 581.4,298.6 587.8,303.5 592.7,308.3 598.4,314.0 607.3,317.2 615.4,320.5 621.9,322.1"/>
<polyline points="586.2,379.7 591.1,371.6 594.3,363.5 595.9,357.0 599.2,352.9 603.2,352.1 604.1,358.6 605.7,363.5 608.9,365.9 615.4,363.5 621.9,361.0"/>
<polyline points="621.9,346.4 617.8,348.1 618.6,350.5 621.9,350.5"/>
</g>
<g clip-path="url(#l20)">
<polyline points="119.7,390.8 123.0,395.6 127.8,398.1 134.3,400.5 140.8,404.5 145.7,409.4 148.9,415.9 153.8,420.8 160.3,427.2 166.8,433.7 173.2,439.4 179.7,442.6 186.2,445.1 192.7,448.3 195.9,452.4 198.4,456.4 204.1,455.6 210.5,453.2 220.3,454.0 230.8,456.4"/>
<polyline points="161.1,407.5 163.5,407.5"/>
</g>
<g clip-path="url(#l21)">
<polyline points="266.8,363.2 270.0,367.2 276.5,372.1 283.0,377.8 289.5,382.6 294.3,385.9 299.2,388.3 300.8,393.2 305.7,396.4 310.5,399.7 317.0,400.5 320.3,403.7 325.1,406.2 330.8,406.5"/>
<polyline points="209.2,453.2 216.5,452.4 223.0,454.8 229.5,457.2 235.9,456.4 242.4,458.4"/>
</g>
<g clip-path="url(#l22)">
<polyline points="309.2,399.7 314.9,400.5 318.1,403.7 324.6,406.5 334.3,407.8 347.3,407.8 358.6,407.0 370.0,405.8 376.5,404.5 381.4,405.4 386.2,408.6 389.0,412.6 389.1,417.5 386.2,420.8 381.4,424.0 374.9,427.2 370.8,429.7 370.0,433.7 371.6,437.8 374.9,441.8 381.4,445.1 389.5,448.3 397.6,452.4 405.7,455.6 412.2,458.4"/>
</g>
<g clip-path="url(#l23)">
<polyline points="517.0,363.2 521.9,367.2 526.8,370.5 530.8,372.9"/>
</g>
<g clip-path="url(#l24)">
<polyline points="516.5,363.2 523.0,368.1 529.5,371.3 534.3,372.9 537.6,373.7 542.4,377.0 550.5,380.2 555.4,385.1 560.3,389.9 565.1,394.8 567.6,398.9 565.9,402.9 568.4,406.2 574.9,408.6 579.7,411.0 586.2,411.8 592.7,414.3 594.3,419.1 593.5,425.6 592.7,430.5 589.5,433.7 587.0,438.6 585.4,443.5 585.4,451.6 587.8,454.8 588.6,459.7"/>
<polyline points="529.5,371.3 531.1,368.1 535.9,366.4 540.0,368.1 540.0,371.3 536.8,372.1 534.3,370.5 532.7,372.1"/>
<polyline points="594.3,363.2 589.5,368.9 584.6,374.5 579.7,380.2 576.5,385.9 576.5,388.3 579.7,391.6 581.4,395.6 580.5,401.3 579.7,406.2 579.7,411.0"/>
<polyline points="604.1,363.2 607.3,365.6 612.2,364.8 615.4,363.2"/>
</g>
<g clip-path="url(#l25)">
<polyline points="183.0,443.2 189.5,446.4 194.3,450.5 197.6,455.4 202.4,457.0 207.3,454.5 212.2,452.9 220.3,454.1 226.8,456.2 230.8,457.0"/>
</g>
<g clip-path="url(#l26)">
<polyline points="209.2,452.1 216.5,452.9 224.6,455.4 232.7,455.7 239.2,456.2 244.1,460.2 246.5,465.1 256.2,465.9 256.2,478.1 258.6,484.5 261.9,487.8 266.8,488.6 272.4,487.0 278.1,489.4 283.0,492.6 285.4,495.9 281.4,499.9 278.1,501.6 279.7,503.2 286.2,502.4 294.3,499.9 302.4,498.3 305.7,500.8 308.9,505.6 313.0,512.1 316.2,518.6 315.4,523.5 313.0,528.6"/>
</g>
<g clip-path="url(#l27)">
<polyline points="377.3,443.2 384.6,446.4 394.3,451.3 404.1,456.2 413.8,460.2 423.5,463.5 430.8,465.9"/>
<polyline points="309.2,504.8 313.2,510.5 316.5,518.6 314.9,525.1 312.4,529.1"/>
<polyline points="421.9,529.1 425.1,523.5 430.8,519.4"/>
</g>
<g clip-path="url(#l28)">
<polyline points="409.2,457.8 416.5,461.0 426.2,463.5 435.9,467.5 445.7,470.8 453.8,475.6 460.3,482.1 466.8,487.0 474.9,491.0 483.0,494.3 491.1,496.7 498.4,499.9 500.0,506.4 504.1,510.5 510.5,515.4 517.0,521.0 521.9,525.9 524.3,529.1"/>
<polyline points="423.0,529.1 426.2,523.5 431.1,517.0 435.9,512.1 442.4,509.7 450.5,510.5 457.0,512.9 452.2,514.5 449.7,517.8 455.4,521.0 461.9,524.3 470.0,526.7 478.1,525.9 484.6,526.7 491.1,529.1"/>
</g>
<g clip-path="url(#l29)">
<polyline points="584.6,443.2 585.4,450.5 589.5,452.9 588.6,458.6 586.2,465.1 585.4,471.6 588.6,475.6 590.3,479.7 587.8,482.1 583.0,483.7 581.4,489.4 579.7,494.3 578.1,499.1 576.5,501.6 579.7,504.0 584.6,506.4 587.0,510.5 587.8,517.0 586.2,523.5 583.0,523.5 579.7,519.4 577.3,515.4 575.7,517.0 578.1,521.8 581.4,526.7 583.0,529.1"/>
<polyline points="509.2,513.7 514.9,518.6 519.7,523.5 524.6,529.1"/>
</g>
<g clip-path="url(#l30)">
<polyline points="226.9,99.5 225.3,103.2 226.4,106.5 229.1,108.1 232.3,107.6 233.4,109.7 231.8,114.1 231.2,118.4 232.9,121.1 236.7,122.2 242.1,123.3 245.3,126.0 248.6,129.2 251.3,131.9 249.6,134.6 247.5,136.8 243.1,135.7 242.1,134.1 239.4,136.8 236.7,139.5 232.3,141.7 230.2,143.8 231.2,145.5 235.0,147.1 242.1,146.8 249.6,146.3 256.7,144.9 263.7,144.4 272.4,143.8 281.0,143.5 285.4,140.1 288.6,134.6 291.3,130.9 292.9,131.4 295.6,135.7"/>
<polyline points="214.5,124.9 218.2,125.4 221.5,128.1 219.9,129.8 222.6,129.2 225.8,127.1 228.5,123.3 231.2,122.2 232.9,121.1"/>
<polyline points="230.2,143.8 225.8,143.3 226.9,147.6 228.5,152.0 230.2,156.3 231.8,163.9"/>
<polyline points="271.3,163.9 272.4,158.5 275.6,154.1 280.0,153.6 285.4,156.3 290.8,159.5 295.6,162.2"/>
</g>
<g clip-path="url(#l31)">
<polyline points="254.4,144.9 262.3,144.3 272.1,143.7 280.6,143.0 284.9,140.0 286.1,139.0"/>
<polyline points="297.7,139.0 301.3,142.4 305.0,144.9 312.3,143.7 318.4,144.3 323.3,146.7 328.2,147.9 333.0,146.1 335.5,141.2 335.5,139.0"/>
<polyline points="254.0,188.8 257.4,185.1 262.3,182.1 266.0,177.8 267.2,172.9 270.2,168.0 271.5,162.0 273.3,157.1 276.3,154.0 280.6,154.4 285.5,157.1 289.8,160.1 295.2,163.8 301.3,167.4 306.2,171.1 309.3,175.4 310.5,180.2 309.9,186.3 309.3,192.4 309.6,198.5 312.3,203.4 316.0,206.5 319.6,209.5 321.5,212.6"/>
<polyline points="289.8,160.1 286.7,165.0 283.7,171.1 282.4,173.5 285.5,176.6 290.4,179.0 295.2,181.5 300.1,182.7 303.8,182.1 305.0,179.6 303.2,176.6 300.1,172.9 297.1,169.3 294.0,165.6 291.6,162.0 289.8,160.1"/>
<polyline points="275.1,167.4 273.3,170.5 274.5,174.1 277.6,177.2 279.4,180.2 278.2,184.5 276.3,188.8 276.3,193.7 277.6,198.5 278.2,203.4 279.4,208.3 281.2,212.6"/>
<polyline points="277.6,167.4 278.2,171.7 279.4,176.6 281.8,180.2 282.4,185.1 283.7,190.0 284.3,194.9 285.5,199.8 287.3,203.4 288.5,206.5 286.7,208.9 283.7,206.5 281.2,202.2 279.4,198.5"/>
<polyline points="300.1,201.6 303.8,205.2 307.4,208.3 311.1,210.7 313.5,212.6"/>
</g>
</g>
<rect x="120" y="51" width="499" height="479" fill="none" stroke="#000" stroke-width="2" shape-rendering="crispEdges"/>
<g stroke="#000" stroke-width="1" shape-rendering="crispEdges">
<line x1="136.20" y1="531" x2="136.20" y2="534"/>
<line x1="196.50" y1="531" x2="196.50" y2="534"/>
<line x1="256.80" y1="531" x2="256.80" y2="534"/>
<line x1="317.10" y1="531" x2="317.10" y2="534"/>
<line x1="377.40" y1="531" x2="377.40" y2="534"/>
<line x1="437.70" y1="531" x2="437.70" y2="534"/>
<line x1="498.00" y1="531" x2="498.00" y2="534"/>
<line x1="558.30" y1="531" x2="558.30" y2="534"/>
<line x1="618.60" y1="531" x2="618.60" y2="534"/>
<line x1="117" y1="106.50" x2="119" y2="106.50"/>
<line x1="117" y1="180.25" x2="119" y2="180.25"/>
<line x1="117" y1="254.00" x2="119" y2="254.00"/>
<line x1="117" y1="327.75" x2="119" y2="327.75"/>
<line x1="117" y1="401.50" x2="119" y2="401.50"/>
<line x1="117" y1="475.25" x2="119" y2="475.25"/>
</g>
<rect x="652" y="77.30" width="15" height="18.93" fill="#ffefdb"/>
<rect x="652" y="95.93" width="15" height="18.93" fill="#d8bfd8"/>
<rect x="652" y="114.56" width="15" height="18.93" fill="#dda0dd"/>
<rect x="652" y="133.19" width="15" height="18.93" fill="#ba55d3"/>
<rect x="652" y="151.82" width="15" height="18.93" fill="#8b008b"/>
<rect x="652" y="170.45" width="15" height="18.93" fill="#960000"/>
<rect x="652" y="189.08" width="15" height="18.93" fill="#c80000"/>
<rect x="652" y="207.71" width="15" height="18.93" fill="#ff0000"/>
<rect x="652" y="226.34" width="15" height="18.93" fill="#ff5a00"/>
<rect x="652" y="244.97" width="15" height="18.93" fill="#f08228"/>
<rect x="652" y="263.60" width="15" height="18.93" fill="#e6af2d"/>
<rect x="652" y="282.23" width="15" height="18.93" fill="#e6dc32"/>
<rect x="652" y="300.86" width="15" height="18.93" fill="#f5f064"/>
<rect x="652" y="319.49" width="15" height="18.93" fill="#e6f5a0"/>
<rect x="652" y="338.12" width="15" height="18.93" fill="#a0e632"/>
<rect x="652" y="356.75" width="15" height="18.93" fill="#00dc00"/>
<rect x="652" y="375.38" width="15" height="18.93" fill="#00b400"/>
<rect x="652" y="394.01" width="15" height="18.93" fill="#007800"/>
<rect x="652" y="412.64" width="15" height="18.93" fill="#2233f2"/>
<rect x="652" y="431.27" width="15" height="18.93" fill="#00a0e6"/>
<rect x="652" y="449.90" width="15" height="18.93" fill="#b0e0e6"/>
<rect x="652" y="468.53" width="15" height="18.93" fill="#f0ffff"/>
<rect x="652" y="487.16" width="15" height="18.93" fill="#ffffff"/>
</svg>
<div class="title">Temperatura zraka na 2m u 00 UTC 06FEB2012</div>
<div class="xl" style="left:121.8px">12E</div>
<div class="xl" style="left:182.1px">13E</div>
<div class="xl" style="left:242.4px">14E</div>
<div class="xl" style="left:302.7px">15E</div>
<div class="xl" style="left:363.0px">16E</div>
<div class="xl" style="left:423.3px">17E</div>
<div class="xl" style="left:483.6px">18E</div>
<div class="xl" style="left:543.9px">19E</div>
<div class="xl" style="left:604.2px">20E</div>
<div class="yl" style="top:99.9px">46N</div>
<div class="yl" style="top:173.7px">45N</div>
<div class="yl" style="top:247.4px">44N</div>
<div class="yl" style="top:321.1px">43N</div>
<div class="yl" style="top:394.9px">42N</div>
<div class="yl" style="top:468.6px">41N</div>
<div class="cl" style="top:69.8px">29</div>
<div class="cl" style="top:88.4px">27</div>
<div class="cl" style="top:107.1px">25</div>
<div class="cl" style="top:125.7px">23</div>
<div class="cl" style="top:144.3px">21</div>
<div class="cl" style="top:162.9px">19</div>
<div class="cl" style="top:181.6px">17</div>
<div class="cl" style="top:200.2px">15</div>
<div class="cl" style="top:218.8px">13</div>
<div class="cl" style="top:237.5px">11</div>
<div class="cl" style="top:256.1px">9</div>
<div class="cl" style="top:274.7px">7</div>
<div class="cl" style="top:293.4px">5</div>
<div class="cl" style="top:312.0px">3</div>
<div class="cl" style="top:330.6px">1</div>
<div class="cl" style="top:349.2px">−1</div>
<div class="cl" style="top:367.9px">−3</div>
<div class="cl" style="top:386.5px">−5</div>
<div class="cl" style="top:405.1px">−7</div>
<div class="cl" style="top:423.8px">−9</div>
<div class="cl" style="top:442.4px">−11</div>
<div class="cl" style="top:461.0px">−13</div>
<div class="cl" style="top:479.7px">−15</div>
<div class="cl" style="top:498.3px">−17</div>
<div class="unit">(st. C)</div>
<div class="dhmz"><span><i style="font-style:normal;margin-right:3.7px">&copy;</i>DHMZ</span></div>
<div class="leg">
<div style="top:8px">Temperatura zraka</div>
<div style="top:22px">na 2m (st. C)</div>
<div style="top:35px">start 00z06feb2012</div>
<div style="top:49px">termin 00Z06FEB2012</div>
</div>
</body></html>
